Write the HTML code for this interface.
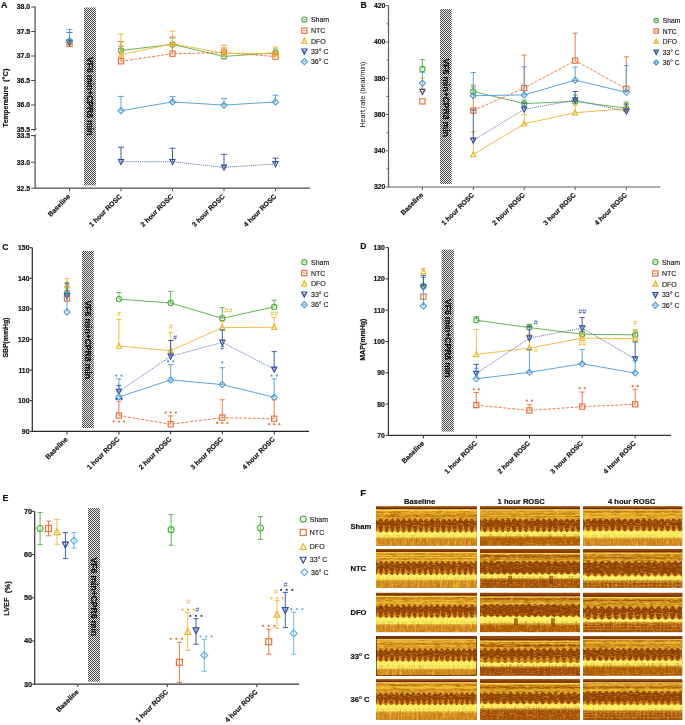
<!DOCTYPE html><html><head><meta charset="utf-8"><style>html,body{margin:0;padding:0;background:#fff;}svg{display:block;filter:blur(0.3px);font-family:"Liberation Sans",sans-serif;}text[font-weight="bold"]{stroke:#111;stroke-width:0.18px;}</style></head><body>
<svg width="685" height="725" viewBox="0 0 685 725">
<defs><pattern id="hat" width="2" height="2" patternUnits="userSpaceOnUse"><rect width="2" height="2" fill="#ececec"/><rect width="1" height="1" fill="#4a4a4a"/><rect x="1" y="1" width="1" height="1" fill="#4a4a4a"/></pattern>
<linearGradient id="ub" x1="0" y1="0" x2="0" y2="1"><stop offset="0" stop-color="#c8862a"/><stop offset="0.5" stop-color="#d49630"/><stop offset="1" stop-color="#d29430"/></linearGradient>
<linearGradient id="bz" x1="0" y1="0" x2="0" y2="1"><stop offset="0" stop-color="#c08030"/><stop offset="1" stop-color="#a35e1c"/></linearGradient>
<linearGradient id="bf" x1="0" y1="0" x2="0" y2="1"><stop offset="0" stop-color="#e8c860" stop-opacity="0.8"/><stop offset="1" stop-color="#e8c860" stop-opacity="0"/></linearGradient>
<filter id="nzd" x="0" y="0" width="1" height="1" filterUnits="objectBoundingBox" color-interpolation-filters="sRGB"><feTurbulence type="fractalNoise" baseFrequency="0.09 0.6" numOctaves="2" seed="4"/><feColorMatrix type="matrix" values="0 0 0 0 0.38  0 0 0 0 0.17  0 0 0 0 0.02  -4.5 0 0 0 2.3"/></filter>
<filter id="nzl" x="0" y="0" width="1" height="1" filterUnits="objectBoundingBox" color-interpolation-filters="sRGB"><feTurbulence type="fractalNoise" baseFrequency="0.2 0.75" numOctaves="2" seed="11"/><feColorMatrix type="matrix" values="0 0 0 0 0.98  0 0 0 0 0.86  0 0 0 0 0.32  0 4.5 0 0 -2.25"/></filter>
<filter id="nzf" x="0" y="0" width="1" height="1" filterUnits="objectBoundingBox" color-interpolation-filters="sRGB"><feTurbulence type="fractalNoise" baseFrequency="0.3 0.9" numOctaves="1" seed="31"/><feColorMatrix type="matrix" values="0 0 0 0 0.97  0 0 0 0 0.85  0 0 0 0 0.35  0 5 0 0 -2.7"/></filter>
<filter id="nzv" x="0" y="0" width="1" height="1" filterUnits="objectBoundingBox" color-interpolation-filters="sRGB"><feTurbulence type="fractalNoise" baseFrequency="0.6 0.1" numOctaves="2" seed="9"/><feColorMatrix type="matrix" values="0 0 0 0 0.45  0 0 0 0 0.22  0 0 0 0 0.03  -4 0 0 0 2.1"/></filter>
<filter id="nzv2" x="0" y="0" width="1" height="1" filterUnits="objectBoundingBox" color-interpolation-filters="sRGB"><feTurbulence type="fractalNoise" baseFrequency="0.6 0.1" numOctaves="2" seed="21"/><feColorMatrix type="matrix" values="0 0 0 0 0.97  0 0 0 0 0.82  0 0 0 0 0.3  0 4 0 0 -2.0"/></filter>
</defs>
<rect width="685" height="725" fill="#fff"/>
<text x="1" y="7.7" font-size="8.8" text-anchor="start" font-weight="bold" fill="#111" >A</text>
<line x1="35.1" y1="6.5" x2="35.1" y2="130" stroke="#4a4a4a" stroke-width="1.2" />
<line x1="35.1" y1="135.5" x2="35.1" y2="188.5" stroke="#4a4a4a" stroke-width="1.2" />
<line x1="33.6" y1="131.5" x2="36.6" y2="128.5" stroke="#4a4a4a" stroke-width="0.9" />
<line x1="33.6" y1="137" x2="36.6" y2="134" stroke="#4a4a4a" stroke-width="0.9" />
<line x1="31.1" y1="7" x2="35.1" y2="7" stroke="#4a4a4a" stroke-width="1.0" />
<text x="30.2" y="9.4" font-size="6.9" text-anchor="end" font-weight="bold" fill="#111" >38.0</text>
<line x1="31.1" y1="31.5" x2="35.1" y2="31.5" stroke="#4a4a4a" stroke-width="1.0" />
<text x="30.2" y="33.9" font-size="6.9" text-anchor="end" font-weight="bold" fill="#111" >37.5</text>
<line x1="31.1" y1="56" x2="35.1" y2="56" stroke="#4a4a4a" stroke-width="1.0" />
<text x="30.2" y="58.4" font-size="6.9" text-anchor="end" font-weight="bold" fill="#111" >37.0</text>
<line x1="31.1" y1="80.5" x2="35.1" y2="80.5" stroke="#4a4a4a" stroke-width="1.0" />
<text x="30.2" y="82.9" font-size="6.9" text-anchor="end" font-weight="bold" fill="#111" >36.5</text>
<line x1="31.1" y1="105" x2="35.1" y2="105" stroke="#4a4a4a" stroke-width="1.0" />
<text x="30.2" y="107.4" font-size="6.9" text-anchor="end" font-weight="bold" fill="#111" >36.0</text>
<line x1="31.1" y1="129.5" x2="35.1" y2="129.5" stroke="#4a4a4a" stroke-width="1.0" />
<text x="30.2" y="131.9" font-size="6.9" text-anchor="end" font-weight="bold" fill="#111" >35.5</text>
<line x1="31.1" y1="135.5" x2="35.1" y2="135.5" stroke="#4a4a4a" stroke-width="1.0" />
<text x="30.2" y="137.9" font-size="6.9" text-anchor="end" font-weight="bold" fill="#111" >33.5</text>
<line x1="31.1" y1="162.2" x2="35.1" y2="162.2" stroke="#4a4a4a" stroke-width="1.0" />
<text x="30.2" y="164.6" font-size="6.9" text-anchor="end" font-weight="bold" fill="#111" >33.0</text>
<line x1="31.1" y1="188.2" x2="35.1" y2="188.2" stroke="#4a4a4a" stroke-width="1.0" />
<text x="30.2" y="190.6" font-size="6.9" text-anchor="end" font-weight="bold" fill="#111" >32.5</text>
<line x1="35.1" y1="188.2" x2="310" y2="188.2" stroke="#4a4a4a" stroke-width="1.2" />
<line x1="69.5" y1="188.2" x2="69.5" y2="191.2" stroke="#4a4a4a" stroke-width="1.0" />
<line x1="121" y1="188.2" x2="121" y2="191.2" stroke="#4a4a4a" stroke-width="1.0" />
<line x1="172.5" y1="188.2" x2="172.5" y2="191.2" stroke="#4a4a4a" stroke-width="1.0" />
<line x1="224" y1="188.2" x2="224" y2="191.2" stroke="#4a4a4a" stroke-width="1.0" />
<line x1="275.5" y1="188.2" x2="275.5" y2="191.2" stroke="#4a4a4a" stroke-width="1.0" />
<text x="-106.7" y="8.2" font-size="7.2" font-weight="bold" fill="#111" text-anchor="middle" transform="rotate(-90)" textLength="41.2" lengthAdjust="spacingAndGlyphs">Temperature</text>
<text x="-75.2" y="8.2" font-size="7.2" font-weight="bold" fill="#111" text-anchor="middle" transform="rotate(-90)" textLength="13.5" lengthAdjust="spacingAndGlyphs">(°C)</text>
<rect x="84" y="7.5" width="12" height="178" fill="url(#hat)"/>
<text x="57" y="-86.9" font-size="8.5" font-weight="bold" fill="#111" transform="rotate(90)" textLength="78.5" lengthAdjust="spacingAndGlyphs">VF6 min+CPR8 min</text>
<text x="70.7" y="196.9" font-size="6.9" font-weight="bold" fill="#111" text-anchor="end" transform="rotate(-45 70.7 196.9)">Baseline</text>
<text x="122.2" y="196.9" font-size="6.9" font-weight="bold" fill="#111" text-anchor="end" transform="rotate(-45 122.2 196.9)">1 hour ROSC</text>
<text x="173.7" y="196.9" font-size="6.9" font-weight="bold" fill="#111" text-anchor="end" transform="rotate(-45 173.7 196.9)">2 hour ROSC</text>
<text x="225.2" y="196.9" font-size="6.9" font-weight="bold" fill="#111" text-anchor="end" transform="rotate(-45 225.2 196.9)">3 hour ROSC</text>
<text x="276.7" y="196.9" font-size="6.9" font-weight="bold" fill="#111" text-anchor="end" transform="rotate(-45 276.7 196.9)">4 hour ROSC</text>
<line x1="121" y1="46" x2="121" y2="50.5" stroke="#52ad45" stroke-width="0.9" />
<line x1="118" y1="46" x2="124" y2="46" stroke="#52ad45" stroke-width="0.9" />
<line x1="172.5" y1="38" x2="172.5" y2="44.4" stroke="#52ad45" stroke-width="0.9" />
<line x1="169.5" y1="38" x2="175.5" y2="38" stroke="#52ad45" stroke-width="0.9" />
<line x1="224" y1="52" x2="224" y2="56.4" stroke="#52ad45" stroke-width="0.9" />
<line x1="221" y1="52" x2="227" y2="52" stroke="#52ad45" stroke-width="0.9" />
<line x1="275.5" y1="49" x2="275.5" y2="52.8" stroke="#52ad45" stroke-width="0.9" />
<line x1="272.5" y1="49" x2="278.5" y2="49" stroke="#52ad45" stroke-width="0.9" />
<polyline points="121,50.5 172.5,44.4 224,56.4 275.5,52.8" fill="none" stroke="#52ad45" stroke-width="0.9" />
<circle cx="69.5" cy="41.5" r="2.6" fill="none" stroke="#52ad45" stroke-width="1.15"/>
<circle cx="121" cy="50.5" r="2.6" fill="none" stroke="#52ad45" stroke-width="1.15"/>
<circle cx="172.5" cy="44.4" r="2.6" fill="none" stroke="#52ad45" stroke-width="1.15"/>
<circle cx="224" cy="56.4" r="2.6" fill="none" stroke="#52ad45" stroke-width="1.15"/>
<circle cx="275.5" cy="52.8" r="2.6" fill="none" stroke="#52ad45" stroke-width="1.15"/>
<line x1="121" y1="41.5" x2="121" y2="61.3" stroke="#ea6f36" stroke-width="0.9" />
<line x1="118" y1="41.5" x2="124" y2="41.5" stroke="#ea6f36" stroke-width="0.9" />
<line x1="172.5" y1="37" x2="172.5" y2="53.7" stroke="#ea6f36" stroke-width="0.9" />
<line x1="169.5" y1="37" x2="175.5" y2="37" stroke="#ea6f36" stroke-width="0.9" />
<line x1="224" y1="48" x2="224" y2="52.6" stroke="#ea6f36" stroke-width="0.9" />
<line x1="221" y1="48" x2="227" y2="48" stroke="#ea6f36" stroke-width="0.9" />
<line x1="275.5" y1="52" x2="275.5" y2="56.6" stroke="#ea6f36" stroke-width="0.9" />
<line x1="272.5" y1="52" x2="278.5" y2="52" stroke="#ea6f36" stroke-width="0.9" />
<polyline points="121,61.3 172.5,53.7 224,52.6 275.5,56.6" fill="none" stroke="#ea6f36" stroke-width="0.9" stroke-dasharray="3,1.5"/>
<rect x="66.9" y="41.2" width="5.2" height="5.2" fill="none" stroke="#ea6f36" stroke-width="1.15"/>
<rect x="118.4" y="58.7" width="5.2" height="5.2" fill="none" stroke="#ea6f36" stroke-width="1.15"/>
<rect x="169.9" y="51.1" width="5.2" height="5.2" fill="none" stroke="#ea6f36" stroke-width="1.15"/>
<rect x="221.4" y="50" width="5.2" height="5.2" fill="none" stroke="#ea6f36" stroke-width="1.15"/>
<rect x="272.9" y="54" width="5.2" height="5.2" fill="none" stroke="#ea6f36" stroke-width="1.15"/>
<line x1="121" y1="33.9" x2="121" y2="54.6" stroke="#ecb531" stroke-width="0.9" />
<line x1="118" y1="33.9" x2="124" y2="33.9" stroke="#ecb531" stroke-width="0.9" />
<line x1="172.5" y1="31.2" x2="172.5" y2="43.8" stroke="#ecb531" stroke-width="0.9" />
<line x1="169.5" y1="31.2" x2="175.5" y2="31.2" stroke="#ecb531" stroke-width="0.9" />
<line x1="224" y1="45.3" x2="224" y2="53.4" stroke="#ecb531" stroke-width="0.9" />
<line x1="221" y1="45.3" x2="227" y2="45.3" stroke="#ecb531" stroke-width="0.9" />
<line x1="275.5" y1="47" x2="275.5" y2="53.4" stroke="#ecb531" stroke-width="0.9" />
<line x1="272.5" y1="47" x2="278.5" y2="47" stroke="#ecb531" stroke-width="0.9" />
<polyline points="121,54.6 172.5,43.8 224,53.4 275.5,53.4" fill="none" stroke="#ecb531" stroke-width="0.9" />
<path d="M69.5 38.14L72.05 43.21L66.95 43.21Z" fill="none" stroke="#ecb531" stroke-width="1.15" stroke-linejoin="miter"/>
<path d="M121 51.74L123.55 56.81L118.45 56.81Z" fill="none" stroke="#ecb531" stroke-width="1.15" stroke-linejoin="miter"/>
<path d="M172.5 40.94L175.05 46.01L169.95 46.01Z" fill="none" stroke="#ecb531" stroke-width="1.15" stroke-linejoin="miter"/>
<path d="M224 50.54L226.55 55.61L221.45 55.61Z" fill="none" stroke="#ecb531" stroke-width="1.15" stroke-linejoin="miter"/>
<path d="M275.5 50.54L278.05 55.61L272.95 55.61Z" fill="none" stroke="#ecb531" stroke-width="1.15" stroke-linejoin="miter"/>
<line x1="69.5" y1="32.4" x2="69.5" y2="42.5" stroke="#2d4d9a" stroke-width="0.9" />
<line x1="66.5" y1="32.4" x2="72.5" y2="32.4" stroke="#2d4d9a" stroke-width="0.9" />
<line x1="121" y1="147.2" x2="121" y2="161.7" stroke="#2d4d9a" stroke-width="0.9" />
<line x1="118" y1="147.2" x2="124" y2="147.2" stroke="#2d4d9a" stroke-width="0.9" />
<line x1="172.5" y1="148.2" x2="172.5" y2="161.7" stroke="#2d4d9a" stroke-width="0.9" />
<line x1="169.5" y1="148.2" x2="175.5" y2="148.2" stroke="#2d4d9a" stroke-width="0.9" />
<line x1="224" y1="154.3" x2="224" y2="167.4" stroke="#2d4d9a" stroke-width="0.9" />
<line x1="221" y1="154.3" x2="227" y2="154.3" stroke="#2d4d9a" stroke-width="0.9" />
<line x1="275.5" y1="158.2" x2="275.5" y2="163.9" stroke="#2d4d9a" stroke-width="0.9" />
<line x1="272.5" y1="158.2" x2="278.5" y2="158.2" stroke="#2d4d9a" stroke-width="0.9" />
<polyline points="121,161.7 172.5,161.7 224,167.4 275.5,163.9" fill="none" stroke="#4a68b0" stroke-width="0.85" stroke-dasharray="1.2,0.9"/>
<path d="M69.5 45.36L72.05 40.29L66.95 40.29Z" fill="none" stroke="#2d4d9a" stroke-width="1.15" stroke-linejoin="miter"/>
<path d="M121 164.56L123.55 159.49L118.45 159.49Z" fill="none" stroke="#2d4d9a" stroke-width="1.15" stroke-linejoin="miter"/>
<path d="M172.5 164.56L175.05 159.49L169.95 159.49Z" fill="none" stroke="#2d4d9a" stroke-width="1.15" stroke-linejoin="miter"/>
<path d="M224 170.26L226.55 165.19L221.45 165.19Z" fill="none" stroke="#2d4d9a" stroke-width="1.15" stroke-linejoin="miter"/>
<path d="M275.5 166.76L278.05 161.69L272.95 161.69Z" fill="none" stroke="#2d4d9a" stroke-width="1.15" stroke-linejoin="miter"/>
<line x1="69.5" y1="29.4" x2="69.5" y2="40.5" stroke="#4b9bd3" stroke-width="0.9" />
<line x1="66.5" y1="29.4" x2="72.5" y2="29.4" stroke="#4b9bd3" stroke-width="0.9" />
<line x1="121" y1="96.4" x2="121" y2="110.7" stroke="#4b9bd3" stroke-width="0.9" />
<line x1="118" y1="96.4" x2="124" y2="96.4" stroke="#4b9bd3" stroke-width="0.9" />
<line x1="172.5" y1="96.6" x2="172.5" y2="101.9" stroke="#4b9bd3" stroke-width="0.9" />
<line x1="169.5" y1="96.6" x2="175.5" y2="96.6" stroke="#4b9bd3" stroke-width="0.9" />
<line x1="224" y1="98.4" x2="224" y2="105.1" stroke="#4b9bd3" stroke-width="0.9" />
<line x1="221" y1="98.4" x2="227" y2="98.4" stroke="#4b9bd3" stroke-width="0.9" />
<line x1="275.5" y1="95.2" x2="275.5" y2="101.9" stroke="#4b9bd3" stroke-width="0.9" />
<line x1="272.5" y1="95.2" x2="278.5" y2="95.2" stroke="#4b9bd3" stroke-width="0.9" />
<polyline points="121,110.7 172.5,101.9 224,105.1 275.5,101.9" fill="none" stroke="#4b9bd3" stroke-width="0.9" />
<path d="M69.5 37.51L72.49 40.5L69.5 43.49L66.51 40.5Z" fill="none" stroke="#4b9bd3" stroke-width="1.15"/>
<path d="M121 107.71L123.99 110.7L121 113.69L118.01 110.7Z" fill="none" stroke="#4b9bd3" stroke-width="1.15"/>
<path d="M172.5 98.91L175.49 101.9L172.5 104.89L169.51 101.9Z" fill="none" stroke="#4b9bd3" stroke-width="1.15"/>
<path d="M224 102.11L226.99 105.1L224 108.09L221.01 105.1Z" fill="none" stroke="#4b9bd3" stroke-width="1.15"/>
<path d="M275.5 98.91L278.49 101.9L275.5 104.89L272.51 101.9Z" fill="none" stroke="#4b9bd3" stroke-width="1.15"/>
<circle cx="304.4" cy="19.6" r="2.6" fill="none" stroke="#52ad45" stroke-width="1.2"/>
<line x1="303.1" y1="19.6" x2="305.7" y2="19.6" stroke="#52ad45" stroke-width="0.9" />
<text x="310.9" y="22.1" font-size="7" text-anchor="start" font-weight="normal" fill="#111" stroke="#111" stroke-width="0.12">Sham</text>
<rect x="301.8" y="28.1" width="5.2" height="5.2" fill="none" stroke="#ea6f36" stroke-width="1.2"/>
<line x1="303.1" y1="30.7" x2="305.7" y2="30.7" stroke="#ea6f36" stroke-width="0.9" />
<text x="310.9" y="33.2" font-size="7" text-anchor="start" font-weight="normal" fill="#111" stroke="#111" stroke-width="0.12">NTC</text>
<path d="M304.4 38.24L306.95 43.31L301.85 43.31Z" fill="none" stroke="#ecb531" stroke-width="1.2" stroke-linejoin="miter"/>
<line x1="303.1" y1="41.1" x2="305.7" y2="41.1" stroke="#ecb531" stroke-width="0.9" />
<text x="310.9" y="43.6" font-size="7" text-anchor="start" font-weight="normal" fill="#111" stroke="#111" stroke-width="0.12">DFO</text>
<path d="M304.4 54.06L306.95 48.99L301.85 48.99Z" fill="none" stroke="#2d4d9a" stroke-width="1.2" stroke-linejoin="miter"/>
<line x1="303.1" y1="51.2" x2="305.7" y2="51.2" stroke="#2d4d9a" stroke-width="0.9" />
<text x="310.9" y="53.7" font-size="7" text-anchor="start" font-weight="normal" fill="#111" stroke="#111" stroke-width="0.12">33° C</text>
<path d="M304.4 58.61L307.39 61.6L304.4 64.59L301.41 61.6Z" fill="none" stroke="#4b9bd3" stroke-width="1.2"/>
<line x1="303.1" y1="61.6" x2="305.7" y2="61.6" stroke="#4b9bd3" stroke-width="0.9" />
<text x="310.9" y="64.1" font-size="7" text-anchor="start" font-weight="normal" fill="#111" stroke="#111" stroke-width="0.12">36° C</text>
<text x="360.6" y="7.6" font-size="8.6" text-anchor="start" font-weight="bold" fill="#111" >B</text>
<line x1="388.5" y1="5.6" x2="388.5" y2="187.5" stroke="#5e5e5e" stroke-width="1.2" />
<line x1="385.7" y1="5.6" x2="388.5" y2="5.6" stroke="#5e5e5e" stroke-width="1.0" />
<text x="385.3" y="8" font-size="6.8" text-anchor="end" font-weight="bold" fill="#111" >420</text>
<line x1="385.7" y1="42" x2="388.5" y2="42" stroke="#5e5e5e" stroke-width="1.0" />
<text x="385.3" y="44.4" font-size="6.8" text-anchor="end" font-weight="bold" fill="#111" >400</text>
<line x1="385.7" y1="78.4" x2="388.5" y2="78.4" stroke="#5e5e5e" stroke-width="1.0" />
<text x="385.3" y="80.8" font-size="6.8" text-anchor="end" font-weight="bold" fill="#111" >380</text>
<line x1="385.7" y1="114.6" x2="388.5" y2="114.6" stroke="#5e5e5e" stroke-width="1.0" />
<text x="385.3" y="117" font-size="6.8" text-anchor="end" font-weight="bold" fill="#111" >360</text>
<line x1="385.7" y1="150.8" x2="388.5" y2="150.8" stroke="#5e5e5e" stroke-width="1.0" />
<text x="385.3" y="153.2" font-size="6.8" text-anchor="end" font-weight="bold" fill="#111" >340</text>
<line x1="385.7" y1="187" x2="388.5" y2="187" stroke="#5e5e5e" stroke-width="1.0" />
<text x="385.3" y="189.4" font-size="6.8" text-anchor="end" font-weight="bold" fill="#111" >320</text>
<line x1="386.5" y1="23.8" x2="388.5" y2="23.8" stroke="#5e5e5e" stroke-width="0.9" />
<line x1="386.5" y1="60.2" x2="388.5" y2="60.2" stroke="#5e5e5e" stroke-width="0.9" />
<line x1="386.5" y1="96.5" x2="388.5" y2="96.5" stroke="#5e5e5e" stroke-width="0.9" />
<line x1="386.5" y1="132.7" x2="388.5" y2="132.7" stroke="#5e5e5e" stroke-width="0.9" />
<line x1="386.5" y1="168.9" x2="388.5" y2="168.9" stroke="#5e5e5e" stroke-width="0.9" />
<line x1="388.5" y1="187" x2="660.5" y2="187" stroke="#5e5e5e" stroke-width="1.2" />
<line x1="422.4" y1="187" x2="422.4" y2="190" stroke="#5e5e5e" stroke-width="1.0" />
<line x1="473.3" y1="187" x2="473.3" y2="190" stroke="#5e5e5e" stroke-width="1.0" />
<line x1="524.2" y1="187" x2="524.2" y2="190" stroke="#5e5e5e" stroke-width="1.0" />
<line x1="575.2" y1="187" x2="575.2" y2="190" stroke="#5e5e5e" stroke-width="1.0" />
<line x1="626.3" y1="187" x2="626.3" y2="190" stroke="#5e5e5e" stroke-width="1.0" />
<text x="-94.6" y="365.2" font-size="7" font-weight="normal" fill="#111" text-anchor="middle" transform="rotate(-90)" textLength="66" lengthAdjust="spacingAndGlyphs">Heart rate (beat/min)</text>
<rect x="440" y="9" width="11.6" height="175" fill="url(#hat)"/>
<text x="58.5" y="-442.7" font-size="8.5" font-weight="bold" fill="#111" transform="rotate(90)" textLength="78.5" lengthAdjust="spacingAndGlyphs">VF6 min+CPR8 min</text>
<text x="423.6" y="195.4" font-size="6.9" font-weight="bold" fill="#111" text-anchor="end" transform="rotate(-45 423.6 195.4)">Baseline</text>
<text x="474.5" y="195.4" font-size="6.9" font-weight="bold" fill="#111" text-anchor="end" transform="rotate(-45 474.5 195.4)">1 hour ROSC</text>
<text x="525.4" y="195.4" font-size="6.9" font-weight="bold" fill="#111" text-anchor="end" transform="rotate(-45 525.4 195.4)">2 hour ROSC</text>
<text x="576.4" y="195.4" font-size="6.9" font-weight="bold" fill="#111" text-anchor="end" transform="rotate(-45 576.4 195.4)">3 hour ROSC</text>
<text x="627.5" y="195.4" font-size="6.9" font-weight="bold" fill="#111" text-anchor="end" transform="rotate(-45 627.5 195.4)">4 hour ROSC</text>
<line x1="422.4" y1="59.6" x2="422.4" y2="69" stroke="#52ad45" stroke-width="0.9" />
<line x1="419.8" y1="59.6" x2="425" y2="59.6" stroke="#52ad45" stroke-width="0.9" />
<line x1="473.3" y1="87" x2="473.3" y2="91.5" stroke="#52ad45" stroke-width="0.9" />
<line x1="470.7" y1="87" x2="475.9" y2="87" stroke="#52ad45" stroke-width="0.9" />
<line x1="524.2" y1="100" x2="524.2" y2="103.6" stroke="#52ad45" stroke-width="0.9" />
<line x1="521.6" y1="100" x2="526.8" y2="100" stroke="#52ad45" stroke-width="0.9" />
<line x1="575.2" y1="95" x2="575.2" y2="101.4" stroke="#52ad45" stroke-width="0.9" />
<line x1="572.6" y1="95" x2="577.8" y2="95" stroke="#52ad45" stroke-width="0.9" />
<line x1="626.3" y1="102" x2="626.3" y2="108.3" stroke="#52ad45" stroke-width="0.9" />
<line x1="623.7" y1="102" x2="628.9" y2="102" stroke="#52ad45" stroke-width="0.9" />
<polyline points="473.3,91.5 524.2,103.6 575.2,101.4 626.3,108.3" fill="none" stroke="#52ad45" stroke-width="0.9" />
<circle cx="422.4" cy="69" r="2.6" fill="none" stroke="#52ad45" stroke-width="1.15"/>
<circle cx="473.3" cy="91.5" r="2.6" fill="none" stroke="#52ad45" stroke-width="1.15"/>
<circle cx="524.2" cy="103.6" r="2.6" fill="none" stroke="#52ad45" stroke-width="1.15"/>
<circle cx="575.2" cy="101.4" r="2.6" fill="none" stroke="#52ad45" stroke-width="1.15"/>
<circle cx="626.3" cy="108.3" r="2.6" fill="none" stroke="#52ad45" stroke-width="1.15"/>
<line x1="473.3" y1="85.2" x2="473.3" y2="110.6" stroke="#ea6f36" stroke-width="0.9" />
<line x1="470.7" y1="85.2" x2="475.9" y2="85.2" stroke="#ea6f36" stroke-width="0.9" />
<line x1="524.2" y1="55.2" x2="524.2" y2="88" stroke="#ea6f36" stroke-width="0.9" />
<line x1="521.6" y1="55.2" x2="526.8" y2="55.2" stroke="#ea6f36" stroke-width="0.9" />
<line x1="575.2" y1="33.1" x2="575.2" y2="60.7" stroke="#ea6f36" stroke-width="0.9" />
<line x1="572.6" y1="33.1" x2="577.8" y2="33.1" stroke="#ea6f36" stroke-width="0.9" />
<line x1="626.3" y1="56.8" x2="626.3" y2="88.8" stroke="#ea6f36" stroke-width="0.9" />
<line x1="623.7" y1="56.8" x2="628.9" y2="56.8" stroke="#ea6f36" stroke-width="0.9" />
<polyline points="473.3,110.6 524.2,88 575.2,60.7 626.3,88.8" fill="none" stroke="#ea6f36" stroke-width="0.9" stroke-dasharray="3,1.5"/>
<rect x="419.8" y="98.8" width="5.2" height="5.2" fill="none" stroke="#ea6f36" stroke-width="1.15"/>
<rect x="470.7" y="108" width="5.2" height="5.2" fill="none" stroke="#ea6f36" stroke-width="1.15"/>
<rect x="521.6" y="85.4" width="5.2" height="5.2" fill="none" stroke="#ea6f36" stroke-width="1.15"/>
<rect x="572.6" y="58.1" width="5.2" height="5.2" fill="none" stroke="#ea6f36" stroke-width="1.15"/>
<rect x="623.7" y="86.2" width="5.2" height="5.2" fill="none" stroke="#ea6f36" stroke-width="1.15"/>
<line x1="422.4" y1="78" x2="422.4" y2="89.5" stroke="#ecb531" stroke-width="0.9" />
<line x1="419.8" y1="78" x2="425" y2="78" stroke="#ecb531" stroke-width="0.9" />
<line x1="473.3" y1="131.7" x2="473.3" y2="154.5" stroke="#ecb531" stroke-width="0.9" />
<line x1="470.7" y1="131.7" x2="475.9" y2="131.7" stroke="#ecb531" stroke-width="0.9" />
<line x1="524.2" y1="114.6" x2="524.2" y2="123.8" stroke="#ecb531" stroke-width="0.9" />
<line x1="521.6" y1="114.6" x2="526.8" y2="114.6" stroke="#ecb531" stroke-width="0.9" />
<line x1="575.2" y1="105.4" x2="575.2" y2="112.7" stroke="#ecb531" stroke-width="0.9" />
<line x1="572.6" y1="105.4" x2="577.8" y2="105.4" stroke="#ecb531" stroke-width="0.9" />
<line x1="626.3" y1="104" x2="626.3" y2="108.8" stroke="#ecb531" stroke-width="0.9" />
<line x1="623.7" y1="104" x2="628.9" y2="104" stroke="#ecb531" stroke-width="0.9" />
<polyline points="473.3,154.5 524.2,123.8 575.2,112.7 626.3,108.8" fill="none" stroke="#ecb531" stroke-width="0.9" />
<path d="M422.4 86.64L424.95 91.71L419.85 91.71Z" fill="none" stroke="#ecb531" stroke-width="1.15" stroke-linejoin="miter"/>
<path d="M473.3 151.64L475.85 156.71L470.75 156.71Z" fill="none" stroke="#ecb531" stroke-width="1.15" stroke-linejoin="miter"/>
<path d="M524.2 120.94L526.75 126.01L521.65 126.01Z" fill="none" stroke="#ecb531" stroke-width="1.15" stroke-linejoin="miter"/>
<path d="M575.2 109.84L577.75 114.91L572.65 114.91Z" fill="none" stroke="#ecb531" stroke-width="1.15" stroke-linejoin="miter"/>
<path d="M626.3 105.94L628.85 111.01L623.75 111.01Z" fill="none" stroke="#ecb531" stroke-width="1.15" stroke-linejoin="miter"/>
<line x1="473.3" y1="110" x2="473.3" y2="140.3" stroke="#2d4d9a" stroke-width="0.9" />
<line x1="470.7" y1="110" x2="475.9" y2="110" stroke="#2d4d9a" stroke-width="0.9" />
<line x1="524.2" y1="103" x2="524.2" y2="109.3" stroke="#2d4d9a" stroke-width="0.9" />
<line x1="521.6" y1="103" x2="526.8" y2="103" stroke="#2d4d9a" stroke-width="0.9" />
<line x1="575.2" y1="91.5" x2="575.2" y2="100.1" stroke="#2d4d9a" stroke-width="0.9" />
<line x1="572.6" y1="91.5" x2="577.8" y2="91.5" stroke="#2d4d9a" stroke-width="0.9" />
<line x1="626.3" y1="104" x2="626.3" y2="111.4" stroke="#2d4d9a" stroke-width="0.9" />
<line x1="623.7" y1="104" x2="628.9" y2="104" stroke="#2d4d9a" stroke-width="0.9" />
<polyline points="473.3,140.3 524.2,109.3 575.2,100.1 626.3,111.4" fill="none" stroke="#4a68b0" stroke-width="0.85" stroke-dasharray="1.2,0.9"/>
<path d="M422.4 94.46L424.95 89.39L419.85 89.39Z" fill="none" stroke="#2d4d9a" stroke-width="1.15" stroke-linejoin="miter"/>
<path d="M473.3 143.16L475.85 138.09L470.75 138.09Z" fill="none" stroke="#2d4d9a" stroke-width="1.15" stroke-linejoin="miter"/>
<path d="M524.2 112.16L526.75 107.09L521.65 107.09Z" fill="none" stroke="#2d4d9a" stroke-width="1.15" stroke-linejoin="miter"/>
<path d="M575.2 102.96L577.75 97.89L572.65 97.89Z" fill="none" stroke="#2d4d9a" stroke-width="1.15" stroke-linejoin="miter"/>
<path d="M626.3 114.26L628.85 109.19L623.75 109.19Z" fill="none" stroke="#2d4d9a" stroke-width="1.15" stroke-linejoin="miter"/>
<line x1="422.4" y1="72.4" x2="422.4" y2="83.2" stroke="#4b9bd3" stroke-width="0.9" />
<line x1="419.8" y1="72.4" x2="425" y2="72.4" stroke="#4b9bd3" stroke-width="0.9" />
<line x1="473.3" y1="72.5" x2="473.3" y2="95.7" stroke="#4b9bd3" stroke-width="0.9" />
<line x1="470.7" y1="72.5" x2="475.9" y2="72.5" stroke="#4b9bd3" stroke-width="0.9" />
<line x1="524.2" y1="66.8" x2="524.2" y2="94.9" stroke="#4b9bd3" stroke-width="0.9" />
<line x1="521.6" y1="66.8" x2="526.8" y2="66.8" stroke="#4b9bd3" stroke-width="0.9" />
<line x1="575.2" y1="67" x2="575.2" y2="80.2" stroke="#4b9bd3" stroke-width="0.9" />
<line x1="572.6" y1="67" x2="577.8" y2="67" stroke="#4b9bd3" stroke-width="0.9" />
<line x1="626.3" y1="65.5" x2="626.3" y2="92.3" stroke="#4b9bd3" stroke-width="0.9" />
<line x1="623.7" y1="65.5" x2="628.9" y2="65.5" stroke="#4b9bd3" stroke-width="0.9" />
<polyline points="473.3,95.7 524.2,94.9 575.2,80.2 626.3,92.3" fill="none" stroke="#4b9bd3" stroke-width="0.9" />
<path d="M422.4 80.21L425.39 83.2L422.4 86.19L419.41 83.2Z" fill="none" stroke="#4b9bd3" stroke-width="1.15"/>
<path d="M473.3 92.71L476.29 95.7L473.3 98.69L470.31 95.7Z" fill="none" stroke="#4b9bd3" stroke-width="1.15"/>
<path d="M524.2 91.91L527.19 94.9L524.2 97.89L521.21 94.9Z" fill="none" stroke="#4b9bd3" stroke-width="1.15"/>
<path d="M575.2 77.21L578.19 80.2L575.2 83.19L572.21 80.2Z" fill="none" stroke="#4b9bd3" stroke-width="1.15"/>
<path d="M626.3 89.31L629.29 92.3L626.3 95.29L623.31 92.3Z" fill="none" stroke="#4b9bd3" stroke-width="1.15"/>
<circle cx="656.2" cy="20.5" r="2.2" fill="none" stroke="#52ad45" stroke-width="1.2"/>
<line x1="654.9" y1="20.5" x2="657.5" y2="20.5" stroke="#52ad45" stroke-width="0.9" />
<text x="662.8" y="23" font-size="6.7" text-anchor="start" font-weight="normal" fill="#111" stroke="#111" stroke-width="0.12">Sham</text>
<rect x="654" y="28.8" width="4.4" height="4.4" fill="none" stroke="#ea6f36" stroke-width="1.2"/>
<line x1="654.9" y1="31" x2="657.5" y2="31" stroke="#ea6f36" stroke-width="0.9" />
<text x="662.8" y="33.5" font-size="6.7" text-anchor="start" font-weight="normal" fill="#111" stroke="#111" stroke-width="0.12">NTC</text>
<path d="M656.2 39.08L658.36 43.37L654.04 43.37Z" fill="none" stroke="#ecb531" stroke-width="1.2" stroke-linejoin="miter"/>
<line x1="654.9" y1="41.5" x2="657.5" y2="41.5" stroke="#ecb531" stroke-width="0.9" />
<text x="662.8" y="44" font-size="6.7" text-anchor="start" font-weight="normal" fill="#111" stroke="#111" stroke-width="0.12">DFO</text>
<path d="M656.2 54.42L658.36 50.13L654.04 50.13Z" fill="none" stroke="#2d4d9a" stroke-width="1.2" stroke-linejoin="miter"/>
<line x1="654.9" y1="52" x2="657.5" y2="52" stroke="#2d4d9a" stroke-width="0.9" />
<text x="662.8" y="54.5" font-size="6.7" text-anchor="start" font-weight="normal" fill="#111" stroke="#111" stroke-width="0.12">33° C</text>
<path d="M656.2 59.97L658.73 62.5L656.2 65.03L653.67 62.5Z" fill="none" stroke="#4b9bd3" stroke-width="1.2"/>
<line x1="654.9" y1="62.5" x2="657.5" y2="62.5" stroke="#4b9bd3" stroke-width="0.9" />
<text x="662.8" y="65" font-size="6.7" text-anchor="start" font-weight="normal" fill="#111" stroke="#111" stroke-width="0.12">36° C</text>
<text x="2.2" y="250.2" font-size="8.6" text-anchor="start" font-weight="bold" fill="#111" >C</text>
<line x1="32.3" y1="247.7" x2="32.3" y2="431.8" stroke="#262626" stroke-width="1.2" />
<line x1="29.8" y1="247.7" x2="32.3" y2="247.7" stroke="#262626" stroke-width="1.0" />
<text x="29.5" y="250.1" font-size="6.9" text-anchor="end" font-weight="bold" fill="#111" >150</text>
<line x1="29.8" y1="278.3" x2="32.3" y2="278.3" stroke="#262626" stroke-width="1.0" />
<text x="29.5" y="280.7" font-size="6.9" text-anchor="end" font-weight="bold" fill="#111" >140</text>
<line x1="29.8" y1="308.9" x2="32.3" y2="308.9" stroke="#262626" stroke-width="1.0" />
<text x="29.5" y="311.3" font-size="6.9" text-anchor="end" font-weight="bold" fill="#111" >130</text>
<line x1="29.8" y1="339.5" x2="32.3" y2="339.5" stroke="#262626" stroke-width="1.0" />
<text x="29.5" y="341.9" font-size="6.9" text-anchor="end" font-weight="bold" fill="#111" >120</text>
<line x1="29.8" y1="370.1" x2="32.3" y2="370.1" stroke="#262626" stroke-width="1.0" />
<text x="29.5" y="372.5" font-size="6.9" text-anchor="end" font-weight="bold" fill="#111" >110</text>
<line x1="29.8" y1="400.7" x2="32.3" y2="400.7" stroke="#262626" stroke-width="1.0" />
<text x="29.5" y="403.1" font-size="6.9" text-anchor="end" font-weight="bold" fill="#111" >100</text>
<line x1="29.8" y1="431.3" x2="32.3" y2="431.3" stroke="#262626" stroke-width="1.0" />
<text x="29.5" y="433.7" font-size="6.9" text-anchor="end" font-weight="bold" fill="#111" >90</text>
<line x1="32.3" y1="431.3" x2="309" y2="431.3" stroke="#262626" stroke-width="1.2" />
<line x1="67" y1="431.3" x2="67" y2="434.3" stroke="#262626" stroke-width="1.0" />
<line x1="118.9" y1="431.3" x2="118.9" y2="434.3" stroke="#262626" stroke-width="1.0" />
<line x1="170.7" y1="431.3" x2="170.7" y2="434.3" stroke="#262626" stroke-width="1.0" />
<line x1="222.3" y1="431.3" x2="222.3" y2="434.3" stroke="#262626" stroke-width="1.0" />
<line x1="274.2" y1="431.3" x2="274.2" y2="434.3" stroke="#262626" stroke-width="1.0" />
<text x="-337.6" y="8.3" font-size="7" font-weight="bold" fill="#111" text-anchor="middle" transform="rotate(-90)" textLength="40" lengthAdjust="spacingAndGlyphs">SBP(mmHg)</text>
<rect x="82" y="251" width="11.8" height="177" fill="url(#hat)"/>
<text x="300.5" y="-84.8" font-size="8.5" font-weight="bold" fill="#111" transform="rotate(90)" textLength="78.5" lengthAdjust="spacingAndGlyphs">VF6 min+CPR8 min</text>
<text x="68.2" y="439.7" font-size="6.9" font-weight="bold" fill="#111" text-anchor="end" transform="rotate(-45 68.2 439.7)">Baseline</text>
<text x="120.1" y="439.7" font-size="6.9" font-weight="bold" fill="#111" text-anchor="end" transform="rotate(-45 120.1 439.7)">1 hour ROSC</text>
<text x="171.9" y="439.7" font-size="6.9" font-weight="bold" fill="#111" text-anchor="end" transform="rotate(-45 171.9 439.7)">2 hour ROSC</text>
<text x="223.5" y="439.7" font-size="6.9" font-weight="bold" fill="#111" text-anchor="end" transform="rotate(-45 223.5 439.7)">3 hour ROSC</text>
<text x="275.4" y="439.7" font-size="6.9" font-weight="bold" fill="#111" text-anchor="end" transform="rotate(-45 275.4 439.7)">4 hour ROSC</text>
<line x1="67" y1="288" x2="67" y2="293.8" stroke="#52ad45" stroke-width="0.9" />
<line x1="64.4" y1="288" x2="69.6" y2="288" stroke="#52ad45" stroke-width="0.9" />
<line x1="118.9" y1="292.5" x2="118.9" y2="299.1" stroke="#52ad45" stroke-width="0.9" />
<line x1="116.3" y1="292.5" x2="121.5" y2="292.5" stroke="#52ad45" stroke-width="0.9" />
<line x1="170.7" y1="291.4" x2="170.7" y2="303" stroke="#52ad45" stroke-width="0.9" />
<line x1="168.1" y1="291.4" x2="173.3" y2="291.4" stroke="#52ad45" stroke-width="0.9" />
<line x1="222.3" y1="307.7" x2="222.3" y2="318.3" stroke="#52ad45" stroke-width="0.9" />
<line x1="219.7" y1="307.7" x2="224.9" y2="307.7" stroke="#52ad45" stroke-width="0.9" />
<line x1="274.2" y1="300.2" x2="274.2" y2="306.9" stroke="#52ad45" stroke-width="0.9" />
<line x1="271.6" y1="300.2" x2="276.8" y2="300.2" stroke="#52ad45" stroke-width="0.9" />
<polyline points="118.9,299.1 170.7,303 222.3,318.3 274.2,306.9" fill="none" stroke="#52ad45" stroke-width="0.9" />
<circle cx="67" cy="293.8" r="2.6" fill="none" stroke="#52ad45" stroke-width="1.15"/>
<circle cx="118.9" cy="299.1" r="2.6" fill="none" stroke="#52ad45" stroke-width="1.15"/>
<circle cx="170.7" cy="303" r="2.6" fill="none" stroke="#52ad45" stroke-width="1.15"/>
<circle cx="222.3" cy="318.3" r="2.6" fill="none" stroke="#52ad45" stroke-width="1.15"/>
<circle cx="274.2" cy="306.9" r="2.6" fill="none" stroke="#52ad45" stroke-width="1.15"/>
<line x1="67" y1="290.4" x2="67" y2="298.6" stroke="#ea6f36" stroke-width="0.9" />
<line x1="64.4" y1="290.4" x2="69.6" y2="290.4" stroke="#ea6f36" stroke-width="0.9" />
<line x1="118.9" y1="401.2" x2="118.9" y2="415.6" stroke="#ea6f36" stroke-width="0.9" />
<line x1="116.3" y1="401.2" x2="121.5" y2="401.2" stroke="#ea6f36" stroke-width="0.9" />
<line x1="170.7" y1="415.9" x2="170.7" y2="424.2" stroke="#ea6f36" stroke-width="0.9" />
<line x1="168.1" y1="415.9" x2="173.3" y2="415.9" stroke="#ea6f36" stroke-width="0.9" />
<line x1="222.3" y1="399.8" x2="222.3" y2="417.6" stroke="#ea6f36" stroke-width="0.9" />
<line x1="219.7" y1="399.8" x2="224.9" y2="399.8" stroke="#ea6f36" stroke-width="0.9" />
<line x1="274.2" y1="399.8" x2="274.2" y2="418.7" stroke="#ea6f36" stroke-width="0.9" />
<line x1="271.6" y1="399.8" x2="276.8" y2="399.8" stroke="#ea6f36" stroke-width="0.9" />
<polyline points="118.9,415.6 170.7,424.2 222.3,417.6 274.2,418.7" fill="none" stroke="#ea6f36" stroke-width="0.9" stroke-dasharray="3,1.5"/>
<rect x="64.4" y="296" width="5.2" height="5.2" fill="none" stroke="#ea6f36" stroke-width="1.15"/>
<rect x="116.3" y="413" width="5.2" height="5.2" fill="none" stroke="#ea6f36" stroke-width="1.15"/>
<rect x="168.1" y="421.6" width="5.2" height="5.2" fill="none" stroke="#ea6f36" stroke-width="1.15"/>
<rect x="219.7" y="415" width="5.2" height="5.2" fill="none" stroke="#ea6f36" stroke-width="1.15"/>
<rect x="271.6" y="416.1" width="5.2" height="5.2" fill="none" stroke="#ea6f36" stroke-width="1.15"/>
<line x1="67" y1="278.7" x2="67" y2="284.7" stroke="#ecb531" stroke-width="0.9" />
<line x1="64.4" y1="278.7" x2="69.6" y2="278.7" stroke="#ecb531" stroke-width="0.9" />
<line x1="118.9" y1="319.4" x2="118.9" y2="346" stroke="#ecb531" stroke-width="0.9" />
<line x1="116.3" y1="319.4" x2="121.5" y2="319.4" stroke="#ecb531" stroke-width="0.9" />
<line x1="170.7" y1="332.7" x2="170.7" y2="350.7" stroke="#ecb531" stroke-width="0.9" />
<line x1="168.1" y1="332.7" x2="173.3" y2="332.7" stroke="#ecb531" stroke-width="0.9" />
<line x1="222.3" y1="321.6" x2="222.3" y2="327.7" stroke="#ecb531" stroke-width="0.9" />
<line x1="219.7" y1="321.6" x2="224.9" y2="321.6" stroke="#ecb531" stroke-width="0.9" />
<line x1="274.2" y1="317.4" x2="274.2" y2="327.2" stroke="#ecb531" stroke-width="0.9" />
<line x1="271.6" y1="317.4" x2="276.8" y2="317.4" stroke="#ecb531" stroke-width="0.9" />
<polyline points="118.9,346 170.7,350.7 222.3,327.7 274.2,327.2" fill="none" stroke="#ecb531" stroke-width="0.9" />
<path d="M67 281.84L69.55 286.91L64.45 286.91Z" fill="none" stroke="#ecb531" stroke-width="1.15" stroke-linejoin="miter"/>
<path d="M118.9 343.14L121.45 348.21L116.35 348.21Z" fill="none" stroke="#ecb531" stroke-width="1.15" stroke-linejoin="miter"/>
<path d="M170.7 347.84L173.25 352.91L168.15 352.91Z" fill="none" stroke="#ecb531" stroke-width="1.15" stroke-linejoin="miter"/>
<path d="M222.3 324.84L224.85 329.91L219.75 329.91Z" fill="none" stroke="#ecb531" stroke-width="1.15" stroke-linejoin="miter"/>
<path d="M274.2 324.34L276.75 329.41L271.65 329.41Z" fill="none" stroke="#ecb531" stroke-width="1.15" stroke-linejoin="miter"/>
<line x1="67" y1="283.1" x2="67" y2="295.7" stroke="#2d4d9a" stroke-width="0.9" />
<line x1="64.4" y1="283.1" x2="69.6" y2="283.1" stroke="#2d4d9a" stroke-width="0.9" />
<line x1="118.9" y1="385.4" x2="118.9" y2="391.5" stroke="#2d4d9a" stroke-width="0.9" />
<line x1="116.3" y1="385.4" x2="121.5" y2="385.4" stroke="#2d4d9a" stroke-width="0.9" />
<line x1="170.7" y1="340.5" x2="170.7" y2="356.3" stroke="#2d4d9a" stroke-width="0.9" />
<line x1="168.1" y1="340.5" x2="173.3" y2="340.5" stroke="#2d4d9a" stroke-width="0.9" />
<line x1="222.3" y1="330" x2="222.3" y2="342.4" stroke="#2d4d9a" stroke-width="0.9" />
<line x1="219.7" y1="330" x2="224.9" y2="330" stroke="#2d4d9a" stroke-width="0.9" />
<line x1="274.2" y1="351.6" x2="274.2" y2="369.3" stroke="#2d4d9a" stroke-width="0.9" />
<line x1="271.6" y1="351.6" x2="276.8" y2="351.6" stroke="#2d4d9a" stroke-width="0.9" />
<polyline points="118.9,391.5 170.7,356.3 222.3,342.4 274.2,369.3" fill="none" stroke="#4a68b0" stroke-width="0.85" stroke-dasharray="1.2,0.9"/>
<path d="M67 298.56L69.55 293.49L64.45 293.49Z" fill="none" stroke="#2d4d9a" stroke-width="1.15" stroke-linejoin="miter"/>
<path d="M118.9 394.36L121.45 389.29L116.35 389.29Z" fill="none" stroke="#2d4d9a" stroke-width="1.15" stroke-linejoin="miter"/>
<path d="M170.7 359.16L173.25 354.09L168.15 354.09Z" fill="none" stroke="#2d4d9a" stroke-width="1.15" stroke-linejoin="miter"/>
<path d="M222.3 345.26L224.85 340.19L219.75 340.19Z" fill="none" stroke="#2d4d9a" stroke-width="1.15" stroke-linejoin="miter"/>
<path d="M274.2 372.16L276.75 367.09L271.65 367.09Z" fill="none" stroke="#2d4d9a" stroke-width="1.15" stroke-linejoin="miter"/>
<line x1="67" y1="292" x2="67" y2="311.9" stroke="#4b9bd3" stroke-width="0.9" />
<line x1="64.4" y1="292" x2="69.6" y2="292" stroke="#4b9bd3" stroke-width="0.9" />
<line x1="118.9" y1="378.9" x2="118.9" y2="397" stroke="#4b9bd3" stroke-width="0.9" />
<line x1="116.3" y1="378.9" x2="121.5" y2="378.9" stroke="#4b9bd3" stroke-width="0.9" />
<line x1="170.7" y1="364.6" x2="170.7" y2="379.9" stroke="#4b9bd3" stroke-width="0.9" />
<line x1="168.1" y1="364.6" x2="173.3" y2="364.6" stroke="#4b9bd3" stroke-width="0.9" />
<line x1="222.3" y1="367.7" x2="222.3" y2="384.6" stroke="#4b9bd3" stroke-width="0.9" />
<line x1="219.7" y1="367.7" x2="224.9" y2="367.7" stroke="#4b9bd3" stroke-width="0.9" />
<line x1="274.2" y1="379" x2="274.2" y2="397.3" stroke="#4b9bd3" stroke-width="0.9" />
<line x1="271.6" y1="379" x2="276.8" y2="379" stroke="#4b9bd3" stroke-width="0.9" />
<polyline points="118.9,397 170.7,379.9 222.3,384.6 274.2,397.3" fill="none" stroke="#4b9bd3" stroke-width="0.9" />
<path d="M67 308.91L69.99 311.9L67 314.89L64.01 311.9Z" fill="none" stroke="#4b9bd3" stroke-width="1.15"/>
<path d="M118.9 394.01L121.89 397L118.9 399.99L115.91 397Z" fill="none" stroke="#4b9bd3" stroke-width="1.15"/>
<path d="M170.7 376.91L173.69 379.9L170.7 382.89L167.71 379.9Z" fill="none" stroke="#4b9bd3" stroke-width="1.15"/>
<path d="M222.3 381.61L225.29 384.6L222.3 387.59L219.31 384.6Z" fill="none" stroke="#4b9bd3" stroke-width="1.15"/>
<path d="M274.2 394.31L277.19 397.3L274.2 400.29L271.21 397.3Z" fill="none" stroke="#4b9bd3" stroke-width="1.15"/>
<circle cx="304.3" cy="262.2" r="2.6" fill="none" stroke="#52ad45" stroke-width="1.2"/>
<line x1="303" y1="262.2" x2="305.6" y2="262.2" stroke="#52ad45" stroke-width="0.9" />
<text x="311" y="264.7" font-size="7" text-anchor="start" font-weight="normal" fill="#111" stroke="#111" stroke-width="0.12">Sham</text>
<rect x="301.7" y="270.5" width="5.2" height="5.2" fill="none" stroke="#ea6f36" stroke-width="1.2"/>
<line x1="303" y1="273.1" x2="305.6" y2="273.1" stroke="#ea6f36" stroke-width="0.9" />
<text x="311" y="275.6" font-size="7" text-anchor="start" font-weight="normal" fill="#111" stroke="#111" stroke-width="0.12">NTC</text>
<path d="M304.3 280.74L306.85 285.81L301.75 285.81Z" fill="none" stroke="#ecb531" stroke-width="1.2" stroke-linejoin="miter"/>
<line x1="303" y1="283.6" x2="305.6" y2="283.6" stroke="#ecb531" stroke-width="0.9" />
<text x="311" y="286.1" font-size="7" text-anchor="start" font-weight="normal" fill="#111" stroke="#111" stroke-width="0.12">DFO</text>
<path d="M304.3 297.06L306.85 291.99L301.75 291.99Z" fill="none" stroke="#2d4d9a" stroke-width="1.2" stroke-linejoin="miter"/>
<line x1="303" y1="294.2" x2="305.6" y2="294.2" stroke="#2d4d9a" stroke-width="0.9" />
<text x="311" y="296.7" font-size="7" text-anchor="start" font-weight="normal" fill="#111" stroke="#111" stroke-width="0.12">33° C</text>
<path d="M304.3 301.71L307.29 304.7L304.3 307.69L301.31 304.7Z" fill="none" stroke="#4b9bd3" stroke-width="1.2"/>
<line x1="303" y1="304.7" x2="305.6" y2="304.7" stroke="#4b9bd3" stroke-width="0.9" />
<text x="311" y="307.2" font-size="7" text-anchor="start" font-weight="normal" fill="#111" stroke="#111" stroke-width="0.12">36° C</text>
<text x="118.9" y="316" font-size="7" text-anchor="middle" font-weight="normal" fill="#ecb531" font-style="italic">#</text>
<text x="170.7" y="328.8" font-size="7" text-anchor="middle" font-weight="normal" fill="#ecb531" font-style="italic">#</text>
<text x="175" y="339.6" font-size="7" text-anchor="middle" font-weight="normal" fill="#2d4d9a" font-style="italic">#</text>
<text x="228.5" y="312.7" font-size="7" text-anchor="middle" font-weight="normal" fill="#ecb531" font-style="italic">##</text>
<text x="222.3" y="350.2" font-size="7" text-anchor="middle" font-weight="normal" fill="#2d4d9a" font-style="italic">#</text>
<text x="274.2" y="315.5" font-size="7" text-anchor="middle" font-weight="normal" fill="#ecb531" font-style="italic">##</text>
<circle cx="116.3" cy="375.7" r="1.1" fill="#4b9bd3"/>
<circle cx="121.5" cy="375.7" r="1.1" fill="#4b9bd3"/>
<circle cx="116.4" cy="398.9" r="1.1" fill="#2d4d9a"/>
<circle cx="121.6" cy="398.9" r="1.1" fill="#2d4d9a"/>
<circle cx="168.1" cy="361.3" r="1.1" fill="#4b9bd3"/>
<circle cx="173.3" cy="361.3" r="1.1" fill="#4b9bd3"/>
<circle cx="222.3" cy="362.4" r="1.1" fill="#4b9bd3"/>
<circle cx="271.6" cy="375.7" r="1.1" fill="#4b9bd3"/>
<circle cx="276.8" cy="375.7" r="1.1" fill="#4b9bd3"/>
<circle cx="113.7" cy="421.5" r="1.1" fill="#ea6f36"/>
<circle cx="118.9" cy="421.5" r="1.1" fill="#ea6f36"/>
<circle cx="124.1" cy="421.5" r="1.1" fill="#ea6f36"/>
<circle cx="165.5" cy="412.6" r="1.1" fill="#ea6f36"/>
<circle cx="170.7" cy="412.6" r="1.1" fill="#ea6f36"/>
<circle cx="175.9" cy="412.6" r="1.1" fill="#ea6f36"/>
<circle cx="217.1" cy="422.9" r="1.1" fill="#ea6f36"/>
<circle cx="222.3" cy="422.9" r="1.1" fill="#ea6f36"/>
<circle cx="227.5" cy="422.9" r="1.1" fill="#ea6f36"/>
<circle cx="269" cy="424.2" r="1.1" fill="#ea6f36"/>
<circle cx="274.2" cy="424.2" r="1.1" fill="#ea6f36"/>
<circle cx="279.4" cy="424.2" r="1.1" fill="#ea6f36"/>
<text x="360.2" y="249.4" font-size="8.6" text-anchor="start" font-weight="bold" fill="#111" >D</text>
<line x1="388.4" y1="247.6" x2="388.4" y2="435.9" stroke="#333" stroke-width="1.2" />
<line x1="385.6" y1="247.6" x2="388.4" y2="247.6" stroke="#333" stroke-width="1.0" />
<text x="384.8" y="250" font-size="6.8" text-anchor="end" font-weight="bold" fill="#111" >130</text>
<line x1="385.6" y1="278.9" x2="388.4" y2="278.9" stroke="#333" stroke-width="1.0" />
<text x="384.8" y="281.3" font-size="6.8" text-anchor="end" font-weight="bold" fill="#111" >120</text>
<line x1="385.6" y1="310.2" x2="388.4" y2="310.2" stroke="#333" stroke-width="1.0" />
<text x="384.8" y="312.6" font-size="6.8" text-anchor="end" font-weight="bold" fill="#111" >110</text>
<line x1="385.6" y1="341.5" x2="388.4" y2="341.5" stroke="#333" stroke-width="1.0" />
<text x="384.8" y="343.9" font-size="6.8" text-anchor="end" font-weight="bold" fill="#111" >100</text>
<line x1="385.6" y1="372.8" x2="388.4" y2="372.8" stroke="#333" stroke-width="1.0" />
<text x="384.8" y="375.2" font-size="6.8" text-anchor="end" font-weight="bold" fill="#111" >90</text>
<line x1="385.6" y1="404.1" x2="388.4" y2="404.1" stroke="#333" stroke-width="1.0" />
<text x="384.8" y="406.5" font-size="6.8" text-anchor="end" font-weight="bold" fill="#111" >80</text>
<line x1="385.6" y1="435.4" x2="388.4" y2="435.4" stroke="#333" stroke-width="1.0" />
<text x="384.8" y="437.8" font-size="6.8" text-anchor="end" font-weight="bold" fill="#111" >70</text>
<line x1="388.4" y1="435.4" x2="671" y2="435.4" stroke="#333" stroke-width="1.2" />
<line x1="423.4" y1="435.4" x2="423.4" y2="438.4" stroke="#333" stroke-width="1.0" />
<line x1="476.3" y1="435.4" x2="476.3" y2="438.4" stroke="#333" stroke-width="1.0" />
<line x1="529.4" y1="435.4" x2="529.4" y2="438.4" stroke="#333" stroke-width="1.0" />
<line x1="582.2" y1="435.4" x2="582.2" y2="438.4" stroke="#333" stroke-width="1.0" />
<line x1="635.2" y1="435.4" x2="635.2" y2="438.4" stroke="#333" stroke-width="1.0" />
<text x="-339.7" y="365.3" font-size="7.2" font-weight="bold" fill="#111" text-anchor="middle" transform="rotate(-90)" textLength="42.2" lengthAdjust="spacingAndGlyphs">MAP(mmHg)</text>
<rect x="441.6" y="249.6" width="12.2" height="182" fill="url(#hat)"/>
<text x="299.1" y="-444.6" font-size="8.5" font-weight="bold" fill="#111" transform="rotate(90)" textLength="78.5" lengthAdjust="spacingAndGlyphs">VF6 min+CPR8 min</text>
<text x="424.6" y="443.8" font-size="6.9" font-weight="bold" fill="#111" text-anchor="end" transform="rotate(-45 424.6 443.8)">Baseline</text>
<text x="477.5" y="443.8" font-size="6.9" font-weight="bold" fill="#111" text-anchor="end" transform="rotate(-45 477.5 443.8)">1 hour ROSC</text>
<text x="530.6" y="443.8" font-size="6.9" font-weight="bold" fill="#111" text-anchor="end" transform="rotate(-45 530.6 443.8)">2 hour ROSC</text>
<text x="583.4" y="443.8" font-size="6.9" font-weight="bold" fill="#111" text-anchor="end" transform="rotate(-45 583.4 443.8)">3 hour ROSC</text>
<text x="636.4" y="443.8" font-size="6.9" font-weight="bold" fill="#111" text-anchor="end" transform="rotate(-45 636.4 443.8)">4 hour ROSC</text>
<line x1="423.4" y1="277.4" x2="423.4" y2="286" stroke="#52ad45" stroke-width="0.9" />
<line x1="420.8" y1="277.4" x2="426" y2="277.4" stroke="#52ad45" stroke-width="0.9" />
<line x1="476.3" y1="316.6" x2="476.3" y2="320.2" stroke="#52ad45" stroke-width="0.9" />
<line x1="473.7" y1="316.6" x2="478.9" y2="316.6" stroke="#52ad45" stroke-width="0.9" />
<line x1="529.4" y1="324.2" x2="529.4" y2="327.6" stroke="#52ad45" stroke-width="0.9" />
<line x1="526.8" y1="324.2" x2="532" y2="324.2" stroke="#52ad45" stroke-width="0.9" />
<line x1="582.2" y1="331" x2="582.2" y2="334.2" stroke="#52ad45" stroke-width="0.9" />
<line x1="579.6" y1="331" x2="584.8" y2="331" stroke="#52ad45" stroke-width="0.9" />
<line x1="635.2" y1="331" x2="635.2" y2="334.9" stroke="#52ad45" stroke-width="0.9" />
<line x1="632.6" y1="331" x2="637.8" y2="331" stroke="#52ad45" stroke-width="0.9" />
<polyline points="476.3,320.2 529.4,327.6 582.2,334.2 635.2,334.9" fill="none" stroke="#52ad45" stroke-width="0.9" />
<circle cx="423.4" cy="286" r="2.6" fill="none" stroke="#52ad45" stroke-width="1.15"/>
<circle cx="476.3" cy="320.2" r="2.6" fill="none" stroke="#52ad45" stroke-width="1.15"/>
<circle cx="529.4" cy="327.6" r="2.6" fill="none" stroke="#52ad45" stroke-width="1.15"/>
<circle cx="582.2" cy="334.2" r="2.6" fill="none" stroke="#52ad45" stroke-width="1.15"/>
<circle cx="635.2" cy="334.9" r="2.6" fill="none" stroke="#52ad45" stroke-width="1.15"/>
<line x1="476.3" y1="392.5" x2="476.3" y2="405.1" stroke="#ea6f36" stroke-width="0.9" />
<line x1="473.7" y1="392.5" x2="478.9" y2="392.5" stroke="#ea6f36" stroke-width="0.9" />
<line x1="529.4" y1="404.6" x2="529.4" y2="410.4" stroke="#ea6f36" stroke-width="0.9" />
<line x1="526.8" y1="404.6" x2="532" y2="404.6" stroke="#ea6f36" stroke-width="0.9" />
<line x1="582.2" y1="392" x2="582.2" y2="406.7" stroke="#ea6f36" stroke-width="0.9" />
<line x1="579.6" y1="392" x2="584.8" y2="392" stroke="#ea6f36" stroke-width="0.9" />
<line x1="635.2" y1="389.3" x2="635.2" y2="404.3" stroke="#ea6f36" stroke-width="0.9" />
<line x1="632.6" y1="389.3" x2="637.8" y2="389.3" stroke="#ea6f36" stroke-width="0.9" />
<polyline points="476.3,405.1 529.4,410.4 582.2,406.7 635.2,404.3" fill="none" stroke="#ea6f36" stroke-width="0.9" stroke-dasharray="3,1.5"/>
<rect x="420.8" y="294" width="5.2" height="5.2" fill="none" stroke="#ea6f36" stroke-width="1.15"/>
<rect x="473.7" y="402.5" width="5.2" height="5.2" fill="none" stroke="#ea6f36" stroke-width="1.15"/>
<rect x="526.8" y="407.8" width="5.2" height="5.2" fill="none" stroke="#ea6f36" stroke-width="1.15"/>
<rect x="579.6" y="404.1" width="5.2" height="5.2" fill="none" stroke="#ea6f36" stroke-width="1.15"/>
<rect x="632.6" y="401.7" width="5.2" height="5.2" fill="none" stroke="#ea6f36" stroke-width="1.15"/>
<line x1="423.4" y1="268.6" x2="423.4" y2="271.6" stroke="#ecb531" stroke-width="0.9" />
<line x1="420.8" y1="268.6" x2="426" y2="268.6" stroke="#ecb531" stroke-width="0.9" />
<line x1="476.3" y1="329.4" x2="476.3" y2="354.4" stroke="#ecb531" stroke-width="0.9" />
<line x1="473.7" y1="329.4" x2="478.9" y2="329.4" stroke="#ecb531" stroke-width="0.9" />
<line x1="529.4" y1="334.2" x2="529.4" y2="348.1" stroke="#ecb531" stroke-width="0.9" />
<line x1="526.8" y1="334.2" x2="532" y2="334.2" stroke="#ecb531" stroke-width="0.9" />
<line x1="582.2" y1="334" x2="582.2" y2="338.1" stroke="#ecb531" stroke-width="0.9" />
<line x1="579.6" y1="334" x2="584.8" y2="334" stroke="#ecb531" stroke-width="0.9" />
<line x1="635.2" y1="329.4" x2="635.2" y2="338.6" stroke="#ecb531" stroke-width="0.9" />
<line x1="632.6" y1="329.4" x2="637.8" y2="329.4" stroke="#ecb531" stroke-width="0.9" />
<polyline points="476.3,354.4 529.4,348.1 582.2,338.1 635.2,338.6" fill="none" stroke="#ecb531" stroke-width="0.9" />
<path d="M423.4 268.74L425.95 273.81L420.85 273.81Z" fill="none" stroke="#ecb531" stroke-width="1.15" stroke-linejoin="miter"/>
<path d="M476.3 351.54L478.85 356.61L473.75 356.61Z" fill="none" stroke="#ecb531" stroke-width="1.15" stroke-linejoin="miter"/>
<path d="M529.4 345.24L531.95 350.31L526.85 350.31Z" fill="none" stroke="#ecb531" stroke-width="1.15" stroke-linejoin="miter"/>
<path d="M582.2 335.24L584.75 340.31L579.65 340.31Z" fill="none" stroke="#ecb531" stroke-width="1.15" stroke-linejoin="miter"/>
<path d="M635.2 335.74L637.75 340.81L632.65 340.81Z" fill="none" stroke="#ecb531" stroke-width="1.15" stroke-linejoin="miter"/>
<line x1="423.4" y1="275.6" x2="423.4" y2="287.4" stroke="#2d4d9a" stroke-width="0.9" />
<line x1="420.8" y1="275.6" x2="426" y2="275.6" stroke="#2d4d9a" stroke-width="0.9" />
<line x1="476.3" y1="364.4" x2="476.3" y2="373.6" stroke="#2d4d9a" stroke-width="0.9" />
<line x1="473.7" y1="364.4" x2="478.9" y2="364.4" stroke="#2d4d9a" stroke-width="0.9" />
<line x1="529.4" y1="326.3" x2="529.4" y2="338.1" stroke="#2d4d9a" stroke-width="0.9" />
<line x1="526.8" y1="326.3" x2="532" y2="326.3" stroke="#2d4d9a" stroke-width="0.9" />
<line x1="582.2" y1="317.6" x2="582.2" y2="328.1" stroke="#2d4d9a" stroke-width="0.9" />
<line x1="579.6" y1="317.6" x2="584.8" y2="317.6" stroke="#2d4d9a" stroke-width="0.9" />
<line x1="635.2" y1="342" x2="635.2" y2="359.1" stroke="#2d4d9a" stroke-width="0.9" />
<line x1="632.6" y1="342" x2="637.8" y2="342" stroke="#2d4d9a" stroke-width="0.9" />
<polyline points="476.3,373.6 529.4,338.1 582.2,328.1 635.2,359.1" fill="none" stroke="#4a68b0" stroke-width="0.85" stroke-dasharray="1.2,0.9"/>
<path d="M423.4 290.26L425.95 285.19L420.85 285.19Z" fill="none" stroke="#2d4d9a" stroke-width="1.15" stroke-linejoin="miter"/>
<path d="M476.3 376.46L478.85 371.39L473.75 371.39Z" fill="none" stroke="#2d4d9a" stroke-width="1.15" stroke-linejoin="miter"/>
<path d="M529.4 340.96L531.95 335.89L526.85 335.89Z" fill="none" stroke="#2d4d9a" stroke-width="1.15" stroke-linejoin="miter"/>
<path d="M582.2 330.96L584.75 325.89L579.65 325.89Z" fill="none" stroke="#2d4d9a" stroke-width="1.15" stroke-linejoin="miter"/>
<path d="M635.2 361.96L637.75 356.89L632.65 356.89Z" fill="none" stroke="#2d4d9a" stroke-width="1.15" stroke-linejoin="miter"/>
<line x1="423.4" y1="288.6" x2="423.4" y2="306" stroke="#4b9bd3" stroke-width="0.9" />
<line x1="420.8" y1="288.6" x2="426" y2="288.6" stroke="#4b9bd3" stroke-width="0.9" />
<line x1="476.3" y1="368.3" x2="476.3" y2="378.8" stroke="#4b9bd3" stroke-width="0.9" />
<line x1="473.7" y1="368.3" x2="478.9" y2="368.3" stroke="#4b9bd3" stroke-width="0.9" />
<line x1="529.4" y1="349.4" x2="529.4" y2="372.3" stroke="#4b9bd3" stroke-width="0.9" />
<line x1="526.8" y1="349.4" x2="532" y2="349.4" stroke="#4b9bd3" stroke-width="0.9" />
<line x1="582.2" y1="349.4" x2="582.2" y2="363.8" stroke="#4b9bd3" stroke-width="0.9" />
<line x1="579.6" y1="349.4" x2="584.8" y2="349.4" stroke="#4b9bd3" stroke-width="0.9" />
<line x1="635.2" y1="360.4" x2="635.2" y2="373" stroke="#4b9bd3" stroke-width="0.9" />
<line x1="632.6" y1="360.4" x2="637.8" y2="360.4" stroke="#4b9bd3" stroke-width="0.9" />
<polyline points="476.3,378.8 529.4,372.3 582.2,363.8 635.2,373" fill="none" stroke="#4b9bd3" stroke-width="0.9" />
<path d="M423.4 303.01L426.39 306L423.4 308.99L420.41 306Z" fill="none" stroke="#4b9bd3" stroke-width="1.15"/>
<path d="M476.3 375.81L479.29 378.8L476.3 381.79L473.31 378.8Z" fill="none" stroke="#4b9bd3" stroke-width="1.15"/>
<path d="M529.4 369.31L532.39 372.3L529.4 375.29L526.41 372.3Z" fill="none" stroke="#4b9bd3" stroke-width="1.15"/>
<path d="M582.2 360.81L585.19 363.8L582.2 366.79L579.21 363.8Z" fill="none" stroke="#4b9bd3" stroke-width="1.15"/>
<path d="M635.2 370.01L638.19 373L635.2 375.99L632.21 373Z" fill="none" stroke="#4b9bd3" stroke-width="1.15"/>
<circle cx="655.4" cy="262" r="2.6" fill="none" stroke="#52ad45" stroke-width="1.2"/>
<line x1="654.1" y1="262" x2="656.7" y2="262" stroke="#52ad45" stroke-width="0.9" />
<text x="661.9" y="264.5" font-size="7" text-anchor="start" font-weight="normal" fill="#111" stroke="#111" stroke-width="0.12">Sham</text>
<rect x="652.8" y="270.8" width="5.2" height="5.2" fill="none" stroke="#ea6f36" stroke-width="1.2"/>
<line x1="654.1" y1="273.4" x2="656.7" y2="273.4" stroke="#ea6f36" stroke-width="0.9" />
<text x="661.9" y="275.9" font-size="7" text-anchor="start" font-weight="normal" fill="#111" stroke="#111" stroke-width="0.12">NTC</text>
<path d="M655.4 281.14L657.95 286.21L652.85 286.21Z" fill="none" stroke="#ecb531" stroke-width="1.2" stroke-linejoin="miter"/>
<line x1="654.1" y1="284" x2="656.7" y2="284" stroke="#ecb531" stroke-width="0.9" />
<text x="661.9" y="286.5" font-size="7" text-anchor="start" font-weight="normal" fill="#111" stroke="#111" stroke-width="0.12">DFO</text>
<path d="M655.4 297.66L657.95 292.59L652.85 292.59Z" fill="none" stroke="#2d4d9a" stroke-width="1.2" stroke-linejoin="miter"/>
<line x1="654.1" y1="294.8" x2="656.7" y2="294.8" stroke="#2d4d9a" stroke-width="0.9" />
<text x="661.9" y="297.3" font-size="7" text-anchor="start" font-weight="normal" fill="#111" stroke="#111" stroke-width="0.12">33° C</text>
<path d="M655.4 302.31L658.39 305.3L655.4 308.29L652.41 305.3Z" fill="none" stroke="#4b9bd3" stroke-width="1.2"/>
<line x1="654.1" y1="305.3" x2="656.7" y2="305.3" stroke="#4b9bd3" stroke-width="0.9" />
<text x="661.9" y="307.8" font-size="7" text-anchor="start" font-weight="normal" fill="#111" stroke="#111" stroke-width="0.12">36° C</text>
<text x="535.7" y="324.5" font-size="7" text-anchor="middle" font-weight="normal" fill="#2d4d9a" font-style="italic">#</text>
<text x="535.7" y="353.4" font-size="7" text-anchor="middle" font-weight="normal" fill="#ecb531" font-style="italic">#</text>
<text x="582.2" y="314" font-size="7" text-anchor="middle" font-weight="normal" fill="#2d4d9a" font-style="italic">##</text>
<text x="582.2" y="346.3" font-size="7" text-anchor="middle" font-weight="normal" fill="#ecb531" font-style="italic">##</text>
<text x="635.2" y="324.5" font-size="7" text-anchor="middle" font-weight="normal" fill="#ecb531" font-style="italic">#</text>
<circle cx="473.7" cy="389.3" r="1.1" fill="#ea6f36"/>
<circle cx="478.9" cy="389.3" r="1.1" fill="#ea6f36"/>
<circle cx="526.8" cy="400.6" r="1.1" fill="#ea6f36"/>
<circle cx="532" cy="400.6" r="1.1" fill="#ea6f36"/>
<circle cx="579.6" cy="388" r="1.1" fill="#ea6f36"/>
<circle cx="584.8" cy="388" r="1.1" fill="#ea6f36"/>
<circle cx="632.6" cy="386.2" r="1.1" fill="#ea6f36"/>
<circle cx="637.8" cy="386.2" r="1.1" fill="#ea6f36"/>
<text x="2.6" y="500.6" font-size="8.8" text-anchor="start" font-weight="bold" fill="#111" >E</text>
<line x1="34.7" y1="511.4" x2="34.7" y2="684.7" stroke="#333" stroke-width="1.2" />
<line x1="31.9" y1="511.4" x2="34.7" y2="511.4" stroke="#333" stroke-width="1.0" />
<text x="32" y="513.8" font-size="7.3" text-anchor="end" font-weight="bold" fill="#111" >70</text>
<line x1="31.9" y1="554.6" x2="34.7" y2="554.6" stroke="#333" stroke-width="1.0" />
<text x="32" y="557" font-size="7.3" text-anchor="end" font-weight="bold" fill="#111" >60</text>
<line x1="31.9" y1="597.8" x2="34.7" y2="597.8" stroke="#333" stroke-width="1.0" />
<text x="32" y="600.2" font-size="7.3" text-anchor="end" font-weight="bold" fill="#111" >50</text>
<line x1="31.9" y1="641" x2="34.7" y2="641" stroke="#333" stroke-width="1.0" />
<text x="32" y="643.4" font-size="7.3" text-anchor="end" font-weight="bold" fill="#111" >40</text>
<line x1="31.9" y1="684.2" x2="34.7" y2="684.2" stroke="#333" stroke-width="1.0" />
<text x="32" y="686.6" font-size="7.3" text-anchor="end" font-weight="bold" fill="#111" >30</text>
<line x1="34.7" y1="684.1" x2="299.2" y2="684.1" stroke="#333" stroke-width="1.2" />
<line x1="77.9" y1="684.1" x2="77.9" y2="687.1" stroke="#333" stroke-width="1.0" />
<line x1="167.3" y1="684.1" x2="167.3" y2="687.1" stroke="#333" stroke-width="1.0" />
<line x1="256.8" y1="684.1" x2="256.8" y2="687.1" stroke="#333" stroke-width="1.0" />
<text x="-606.6" y="9.4" font-size="7.4" font-weight="bold" fill="#111" text-anchor="middle" transform="rotate(-90)" textLength="18.3" lengthAdjust="spacingAndGlyphs">LVEF</text>
<text x="-587.2" y="9.6" font-size="7.2" font-weight="bold" fill="#111" text-anchor="middle" transform="rotate(-90)" textLength="12.3" lengthAdjust="spacingAndGlyphs">(%)</text>
<rect x="88" y="508" width="12" height="173.7" fill="url(#hat)"/>
<text x="557.5" y="-90.9" font-size="8.5" font-weight="bold" fill="#111" transform="rotate(90)" textLength="78.5" lengthAdjust="spacingAndGlyphs">VF6 min+CPR8 min</text>
<text x="79.1" y="692.4" font-size="6.9" font-weight="bold" fill="#111" text-anchor="end" transform="rotate(-45 79.1 692.4)">Baseline</text>
<text x="168.5" y="692.4" font-size="6.9" font-weight="bold" fill="#111" text-anchor="end" transform="rotate(-45 168.5 692.4)">1 hour ROSC</text>
<text x="258" y="692.4" font-size="6.9" font-weight="bold" fill="#111" text-anchor="end" transform="rotate(-45 258 692.4)">4 hour ROSC</text>
<line x1="40.1" y1="512.5" x2="40.1" y2="544.6" stroke="#52ad45" stroke-width="0.9" />
<line x1="37.5" y1="512.5" x2="42.7" y2="512.5" stroke="#52ad45" stroke-width="0.9" />
<line x1="37.5" y1="544.6" x2="42.7" y2="544.6" stroke="#52ad45" stroke-width="0.9" />
<circle cx="40.1" cy="528.5" r="3" fill="none" stroke="#52ad45" stroke-width="1.2"/>
<line x1="48.5" y1="521" x2="48.5" y2="535.8" stroke="#ea6f36" stroke-width="0.9" />
<line x1="45.9" y1="521" x2="51.1" y2="521" stroke="#ea6f36" stroke-width="0.9" />
<line x1="45.9" y1="535.8" x2="51.1" y2="535.8" stroke="#ea6f36" stroke-width="0.9" />
<rect x="45.5" y="525.5" width="6" height="6" fill="none" stroke="#ea6f36" stroke-width="1.2"/>
<line x1="57" y1="519.4" x2="57" y2="544.3" stroke="#ecb531" stroke-width="0.9" />
<line x1="54.4" y1="519.4" x2="59.6" y2="519.4" stroke="#ecb531" stroke-width="0.9" />
<line x1="54.4" y1="544.3" x2="59.6" y2="544.3" stroke="#ecb531" stroke-width="0.9" />
<path d="M57 528.7L59.94 534.55L54.06 534.55Z" fill="none" stroke="#ecb531" stroke-width="1.2" stroke-linejoin="miter"/>
<line x1="65.4" y1="532.6" x2="65.4" y2="558.6" stroke="#2d4d9a" stroke-width="0.9" />
<line x1="62.8" y1="532.6" x2="68" y2="532.6" stroke="#2d4d9a" stroke-width="0.9" />
<line x1="62.8" y1="558.6" x2="68" y2="558.6" stroke="#2d4d9a" stroke-width="0.9" />
<path d="M65.4 547.9L68.34 542.05L62.46 542.05Z" fill="none" stroke="#2d4d9a" stroke-width="1.2" stroke-linejoin="miter"/>
<line x1="73.9" y1="532.6" x2="73.9" y2="548.1" stroke="#5fb0e0" stroke-width="0.9" />
<line x1="71.3" y1="532.6" x2="76.5" y2="532.6" stroke="#5fb0e0" stroke-width="0.9" />
<line x1="71.3" y1="548.1" x2="76.5" y2="548.1" stroke="#5fb0e0" stroke-width="0.9" />
<path d="M73.9 537.15L77.35 540.6L73.9 544.05L70.45 540.6Z" fill="none" stroke="#5fb0e0" stroke-width="1.2"/>
<line x1="171.1" y1="514.7" x2="171.1" y2="545.2" stroke="#52ad45" stroke-width="0.9" />
<line x1="168.5" y1="514.7" x2="173.7" y2="514.7" stroke="#52ad45" stroke-width="0.9" />
<line x1="168.5" y1="545.2" x2="173.7" y2="545.2" stroke="#52ad45" stroke-width="0.9" />
<circle cx="171.1" cy="529.7" r="3" fill="none" stroke="#52ad45" stroke-width="1.2"/>
<line x1="179.4" y1="642.3" x2="179.4" y2="682.5" stroke="#ea6f36" stroke-width="0.9" />
<line x1="176.8" y1="642.3" x2="182" y2="642.3" stroke="#ea6f36" stroke-width="0.9" />
<line x1="176.8" y1="682.5" x2="182" y2="682.5" stroke="#ea6f36" stroke-width="0.9" />
<rect x="176.4" y="659.3" width="6" height="6" fill="none" stroke="#ea6f36" stroke-width="1.2"/>
<line x1="187.7" y1="612.3" x2="187.7" y2="650.3" stroke="#ecb531" stroke-width="0.9" />
<line x1="185.1" y1="612.3" x2="190.3" y2="612.3" stroke="#ecb531" stroke-width="0.9" />
<line x1="185.1" y1="650.3" x2="190.3" y2="650.3" stroke="#ecb531" stroke-width="0.9" />
<path d="M187.7 628.5L190.64 634.35L184.76 634.35Z" fill="none" stroke="#ecb531" stroke-width="1.2" stroke-linejoin="miter"/>
<line x1="196" y1="618.7" x2="196" y2="644.2" stroke="#2d4d9a" stroke-width="0.9" />
<line x1="193.4" y1="618.7" x2="198.6" y2="618.7" stroke="#2d4d9a" stroke-width="0.9" />
<line x1="193.4" y1="644.2" x2="198.6" y2="644.2" stroke="#2d4d9a" stroke-width="0.9" />
<path d="M196 633.7L198.94 627.85L193.06 627.85Z" fill="none" stroke="#2d4d9a" stroke-width="1.2" stroke-linejoin="miter"/>
<line x1="204.3" y1="639.3" x2="204.3" y2="671.2" stroke="#5fb0e0" stroke-width="0.9" />
<line x1="201.7" y1="639.3" x2="206.9" y2="639.3" stroke="#5fb0e0" stroke-width="0.9" />
<line x1="201.7" y1="671.2" x2="206.9" y2="671.2" stroke="#5fb0e0" stroke-width="0.9" />
<path d="M204.3 651.85L207.75 655.3L204.3 658.75L200.85 655.3Z" fill="none" stroke="#5fb0e0" stroke-width="1.2"/>
<line x1="260.4" y1="516.6" x2="260.4" y2="539.4" stroke="#52ad45" stroke-width="0.9" />
<line x1="257.8" y1="516.6" x2="263" y2="516.6" stroke="#52ad45" stroke-width="0.9" />
<line x1="257.8" y1="539.4" x2="263" y2="539.4" stroke="#52ad45" stroke-width="0.9" />
<circle cx="260.4" cy="528" r="3" fill="none" stroke="#52ad45" stroke-width="1.2"/>
<line x1="268.7" y1="629.3" x2="268.7" y2="654.2" stroke="#ea6f36" stroke-width="0.9" />
<line x1="266.1" y1="629.3" x2="271.3" y2="629.3" stroke="#ea6f36" stroke-width="0.9" />
<line x1="266.1" y1="654.2" x2="271.3" y2="654.2" stroke="#ea6f36" stroke-width="0.9" />
<rect x="265.7" y="638.7" width="6" height="6" fill="none" stroke="#ea6f36" stroke-width="1.2"/>
<line x1="277" y1="600.4" x2="277" y2="628.2" stroke="#ecb531" stroke-width="0.9" />
<line x1="274.4" y1="600.4" x2="279.6" y2="600.4" stroke="#ecb531" stroke-width="0.9" />
<line x1="274.4" y1="628.2" x2="279.6" y2="628.2" stroke="#ecb531" stroke-width="0.9" />
<path d="M277 611.3L279.94 617.15L274.06 617.15Z" fill="none" stroke="#ecb531" stroke-width="1.2" stroke-linejoin="miter"/>
<line x1="285.3" y1="592.4" x2="285.3" y2="627.6" stroke="#2d4d9a" stroke-width="0.9" />
<line x1="282.7" y1="592.4" x2="287.9" y2="592.4" stroke="#2d4d9a" stroke-width="0.9" />
<line x1="282.7" y1="627.6" x2="287.9" y2="627.6" stroke="#2d4d9a" stroke-width="0.9" />
<path d="M285.3 613.4L288.24 607.55L282.36 607.55Z" fill="none" stroke="#2d4d9a" stroke-width="1.2" stroke-linejoin="miter"/>
<line x1="293.7" y1="612.3" x2="293.7" y2="654.2" stroke="#5fb0e0" stroke-width="0.9" />
<line x1="291.1" y1="612.3" x2="296.3" y2="612.3" stroke="#5fb0e0" stroke-width="0.9" />
<line x1="291.1" y1="654.2" x2="296.3" y2="654.2" stroke="#5fb0e0" stroke-width="0.9" />
<path d="M293.7 629.95L297.15 633.4L293.7 636.85L290.25 633.4Z" fill="none" stroke="#5fb0e0" stroke-width="1.2"/>
<circle cx="303.2" cy="519.2" r="3" fill="none" stroke="#52ad45" stroke-width="1.2"/>
<text x="309.8" y="521.7" font-size="7" text-anchor="start" font-weight="normal" fill="#111" stroke="#111" stroke-width="0.12">Sham</text>
<rect x="300.2" y="529.5" width="6" height="6" fill="none" stroke="#ea6f36" stroke-width="1.2"/>
<text x="309.8" y="535" font-size="7" text-anchor="start" font-weight="normal" fill="#111" stroke="#111" stroke-width="0.12">NTC</text>
<path d="M303.2 543.6L306.14 549.45L300.26 549.45Z" fill="none" stroke="#ecb531" stroke-width="1.2" stroke-linejoin="miter"/>
<text x="309.8" y="549.4" font-size="7" text-anchor="start" font-weight="normal" fill="#111" stroke="#111" stroke-width="0.12">DFO</text>
<path d="M303.2 563.1L306.14 557.25L300.26 557.25Z" fill="none" stroke="#2d4d9a" stroke-width="1.2" stroke-linejoin="miter"/>
<text x="309.8" y="562.3" font-size="7" text-anchor="start" font-weight="normal" fill="#111" stroke="#111" stroke-width="0.12">33° C</text>
<path d="M304.4 568.85L307.85 572.3L304.4 575.75L300.95 572.3Z" fill="none" stroke="#5fb0e0" stroke-width="1.2"/>
<text x="311" y="574.8" font-size="7" text-anchor="start" font-weight="normal" fill="#111" stroke="#111" stroke-width="0.12">36° C</text>
<circle cx="170.8" cy="638.8" r="1.1" fill="#ea6f36"/>
<circle cx="176.4" cy="638.8" r="1.1" fill="#ea6f36"/>
<circle cx="182" cy="638.8" r="1.1" fill="#ea6f36"/>
<circle cx="182.5" cy="609.7" r="1.1" fill="#ecb531"/>
<circle cx="188.1" cy="609.7" r="1.1" fill="#ecb531"/>
<circle cx="193.7" cy="609.7" r="1.1" fill="#ecb531"/>
<circle cx="190.3" cy="615.9" r="1.1" fill="#2d4d9a"/>
<circle cx="195.9" cy="615.9" r="1.1" fill="#2d4d9a"/>
<circle cx="201.5" cy="615.9" r="1.1" fill="#2d4d9a"/>
<circle cx="200.5" cy="636.5" r="1.1" fill="#5fb0e0"/>
<circle cx="206.1" cy="636.5" r="1.1" fill="#5fb0e0"/>
<circle cx="211.7" cy="636.5" r="1.1" fill="#5fb0e0"/>
<text x="188.1" y="604.4" font-size="7" text-anchor="middle" font-weight="normal" fill="#ecb531" font-style="italic">#</text>
<text x="197.3" y="612.1" font-size="7" text-anchor="middle" font-weight="normal" fill="#2d4d9a" font-style="italic">#</text>
<circle cx="263.1" cy="625.8" r="1.1" fill="#ea6f36"/>
<circle cx="268.7" cy="625.8" r="1.1" fill="#ea6f36"/>
<circle cx="274.3" cy="625.8" r="1.1" fill="#ea6f36"/>
<circle cx="271.6" cy="598.3" r="1.1" fill="#ecb531"/>
<circle cx="277.2" cy="598.3" r="1.1" fill="#ecb531"/>
<circle cx="282.8" cy="598.3" r="1.1" fill="#ecb531"/>
<circle cx="281.1" cy="589.9" r="1.1" fill="#2d4d9a"/>
<circle cx="286.7" cy="589.9" r="1.1" fill="#2d4d9a"/>
<circle cx="292.3" cy="589.9" r="1.1" fill="#2d4d9a"/>
<circle cx="291.2" cy="609.1" r="1.1" fill="#5fb0e0"/>
<circle cx="296.8" cy="609.1" r="1.1" fill="#5fb0e0"/>
<circle cx="302.4" cy="609.1" r="1.1" fill="#5fb0e0"/>
<text x="276" y="593.7" font-size="7" text-anchor="middle" font-weight="normal" fill="#ecb531" font-style="italic">#</text>
<text x="285.5" y="586.8" font-size="7" text-anchor="middle" font-weight="normal" fill="#2d4d9a" font-style="italic">#</text>
<text x="360.3" y="496.3" font-size="9.6" text-anchor="start" font-weight="bold" fill="#111" >F</text>
<text x="419.6" y="504" font-size="7.6" text-anchor="middle" font-weight="bold" fill="#111" >Baseline</text>
<text x="521.2" y="504" font-size="7.6" text-anchor="middle" font-weight="bold" fill="#111" >1 hour ROSC</text>
<text x="631.6" y="504" font-size="7.6" text-anchor="middle" font-weight="bold" fill="#111" >4 hour ROSC</text>
<text x="350.5" y="528.7" font-size="7.6" text-anchor="start" font-weight="bold" fill="#111" >Sham</text>
<text x="350.5" y="571.2" font-size="7.6" text-anchor="start" font-weight="bold" fill="#111" >NTC</text>
<text x="350.5" y="615.2" font-size="7.6" text-anchor="start" font-weight="bold" fill="#111" >DFO</text>
<text x="350.5" y="658.6" font-size="7.6" text-anchor="start" font-weight="bold" fill="#111" >33° C</text>
<text x="350.5" y="702.3" font-size="7.6" text-anchor="start" font-weight="bold" fill="#111" >36° C</text>
<g style="filter:saturate(1.2)">
<clipPath id="c0"><rect x="376" y="506.3" width="100.9" height="39.4"/></clipPath>
<g clip-path="url(#c0)">
<rect x="376" y="506.3" width="100.9" height="39.4" fill="#85420f"/>
<rect x="376" y="532.7" width="100.9" height="13" fill="#c48834"/>
<rect x="376" y="506.3" width="100.9" height="11.82" fill="#c48430"/>
<path d="M369.45 516.92L375.15 516.92L372.3 521.32ZM374.94 516.92L380.64 516.92L377.79 521.32ZM380.84 516.92L386.54 516.92L383.69 521.32ZM386.69 516.92L392.39 516.92L389.54 521.32ZM392.25 516.92L397.95 516.92L395.1 521.32ZM397.95 516.92L403.65 516.92L400.8 521.32ZM403.62 516.92L409.32 516.92L406.47 521.32ZM409.41 516.92L415.11 516.92L412.26 521.32ZM415.27 516.92L420.97 516.92L418.12 521.32ZM420.74 516.92L426.44 516.92L423.59 521.32ZM426.17 516.92L431.87 516.92L429.02 521.32ZM432.06 516.92L437.76 516.92L434.91 521.32ZM437.72 516.92L443.42 516.92L440.57 521.32ZM443.57 516.92L449.27 516.92L446.42 521.32ZM448.99 516.92L454.69 516.92L451.84 521.32ZM454.66 516.92L460.36 516.92L457.51 521.32ZM460.48 516.92L466.18 516.92L463.33 521.32ZM466.03 516.92L471.73 516.92L468.88 521.32ZM471.98 516.92L477.68 516.92L474.83 521.32ZM477.91 516.92L483.61 516.92L480.76 521.32Z" fill="#d39c38" opacity="0.95"/>
<polyline points="369.45,517.52 372.3,520.72 374.94,517.52 377.79,520.72 380.84,517.52 383.69,520.72 386.69,517.52 389.54,520.72 392.25,517.52 395.1,520.72 397.95,517.52 400.8,520.72 403.62,517.52 406.47,520.72 409.41,517.52 412.26,520.72 415.27,517.52 418.12,520.72 420.74,517.52 423.59,520.72 426.17,517.52 429.02,520.72 432.06,517.52 434.91,520.72 437.72,517.52 440.57,520.72 443.57,517.52 446.42,520.72 448.99,517.52 451.84,520.72 454.66,517.52 457.51,520.72 460.48,517.52 463.33,520.72 466.03,517.52 468.88,520.72 471.98,517.52 474.83,520.72 477.91,517.52 480.76,520.72" fill="none" stroke="#f2d264" stroke-width="0.9" opacity="0.6"/>
<rect x="376" y="510.29" width="100.9" height="0.92" fill="#f2cf50" opacity="0.73"/>
<rect x="376" y="512.89" width="100.9" height="0.73" fill="#f2cf50" opacity="0.52"/>
<rect x="376" y="510.31" width="100.9" height="0.73" fill="#f2cf50" opacity="0.53"/>
<rect x="376" y="513.73" width="100.9" height="0.74" fill="#f2cf50" opacity="0.44"/>
<rect x="376" y="511.7" width="100.9" height="0.88" fill="#f2cf50" opacity="0.47"/>
<rect x="376" y="510.26" width="100.9" height="1.1" fill="#f2cf50" opacity="0.57"/>
<path d="M370.02 533.11L372.3 525.11L374.58 533.11ZM375.51 533.11L377.79 525.11L380.07 533.11ZM381.41 533.11L383.69 525.11L385.97 533.11ZM387.26 533.11L389.54 525.11L391.82 533.11ZM392.82 533.11L395.1 525.11L397.38 533.11ZM398.52 533.11L400.8 525.11L403.08 533.11ZM404.19 533.11L406.47 525.11L408.75 533.11ZM409.98 533.11L412.26 525.11L414.54 533.11ZM415.84 533.11L418.12 525.11L420.4 533.11ZM421.31 533.11L423.59 525.11L425.87 533.11ZM426.74 533.11L429.02 525.11L431.3 533.11ZM432.63 533.11L434.91 525.11L437.19 533.11ZM438.29 533.11L440.57 525.11L442.85 533.11ZM444.14 533.11L446.42 525.11L448.7 533.11ZM449.56 533.11L451.84 525.11L454.12 533.11ZM455.23 533.11L457.51 525.11L459.79 533.11ZM461.05 533.11L463.33 525.11L465.61 533.11ZM466.6 533.11L468.88 525.11L471.16 533.11ZM472.55 533.11L474.83 525.11L477.11 533.11ZM478.48 533.11L480.76 525.11L483.04 533.11Z" fill="#cc9030" opacity="0.95"/>
<polygon points="369.45,532.7 372.3,531.1 374.94,532.7 377.79,531.1 380.84,532.7 383.69,531.1 386.69,532.7 389.54,531.1 392.25,532.7 395.1,531.1 397.95,532.7 400.8,531.1 403.62,532.7 406.47,531.1 409.41,532.7 412.26,531.1 415.27,532.7 418.12,531.1 420.74,532.7 423.59,531.1 426.17,532.7 429.02,531.1 432.06,532.7 434.91,531.1 437.72,532.7 440.57,531.1 443.57,532.7 446.42,531.1 448.99,532.7 451.84,531.1 454.66,532.7 457.51,531.1 460.48,532.7 463.33,531.1 466.03,532.7 468.88,531.1 471.98,532.7 474.83,531.1 477.91,532.7 480.76,531.1 478.9,537.43 374,537.43" fill="#f7ee7c" opacity="1"/>
<rect x="376" y="537.43" width="100.9" height="1.97" fill="url(#bf)"/>
<rect x="376" y="506.3" width="100.9" height="11.82" filter="url(#nzd)" opacity="0.3"/>
<rect x="376" y="506.3" width="100.9" height="11.82" filter="url(#nzl)" opacity="0.42"/>
<rect x="376" y="518.12" width="100.9" height="14.58" filter="url(#nzl)" opacity="0.18"/>
<rect x="376" y="535.53" width="100.9" height="10.17" filter="url(#nzv)" opacity="0.2"/>
<rect x="376" y="535.53" width="100.9" height="10.17" filter="url(#nzv2)" opacity="0.5"/>
<rect x="376" y="506.3" width="100.9" height="39.4" filter="url(#nzf)" opacity="0.35"/>
<rect x="376" y="506.3" width="100.9" height="2.7" fill="#8a4a14"/>
<rect x="376" y="508.1" width="100.9" height="0.9" fill="#5a2a06"/>
<rect x="376" y="509.5" width="100.9" height="1.1" fill="#f6e07a" opacity="0.9"/>
</g>
<clipPath id="c1"><rect x="480" y="506.3" width="100" height="39.4"/></clipPath>
<g clip-path="url(#c1)">
<rect x="480" y="506.3" width="100" height="39.4" fill="#85420f"/>
<rect x="480" y="532.3" width="100" height="13.4" fill="#a86219"/>
<rect x="480" y="506.3" width="100" height="11.82" fill="#bc7a28"/>
<path d="M473.15 516.92L479.05 516.92L476.1 521.12ZM478.89 516.92L484.79 516.92L481.84 521.12ZM485.06 516.92L490.96 516.92L488.01 521.12ZM490.74 516.92L496.64 516.92L493.69 521.12ZM496.76 516.92L502.66 516.92L499.71 521.12ZM502.42 516.92L508.32 516.92L505.37 521.12ZM508.17 516.92L514.07 516.92L511.12 521.12ZM514.36 516.92L520.26 516.92L517.31 521.12ZM520.09 516.92L525.99 516.92L523.04 521.12ZM526.07 516.92L531.97 516.92L529.02 521.12ZM531.95 516.92L537.85 516.92L534.9 521.12ZM537.82 516.92L543.72 516.92L540.77 521.12ZM543.72 516.92L549.62 516.92L546.67 521.12ZM549.44 516.92L555.34 516.92L552.39 521.12ZM555.53 516.92L561.43 516.92L558.48 521.12ZM561.19 516.92L567.09 516.92L564.14 521.12ZM566.93 516.92L572.83 516.92L569.88 521.12ZM572.55 516.92L578.45 516.92L575.5 521.12ZM578.31 516.92L584.21 516.92L581.26 521.12Z" fill="#d39c38" opacity="0.95"/>
<polyline points="473.15,517.52 476.1,520.52 478.89,517.52 481.84,520.52 485.06,517.52 488.01,520.52 490.74,517.52 493.69,520.52 496.76,517.52 499.71,520.52 502.42,517.52 505.37,520.52 508.17,517.52 511.12,520.52 514.36,517.52 517.31,520.52 520.09,517.52 523.04,520.52 526.07,517.52 529.02,520.52 531.95,517.52 534.9,520.52 537.82,517.52 540.77,520.52 543.72,517.52 546.67,520.52 549.44,517.52 552.39,520.52 555.53,517.52 558.48,520.52 561.19,517.52 564.14,520.52 566.93,517.52 569.88,520.52 572.55,517.52 575.5,520.52 578.31,517.52 581.26,520.52" fill="none" stroke="#f2d264" stroke-width="0.9" opacity="0.6"/>
<rect x="480" y="516.7" width="100" height="0.83" fill="#f2cf50" opacity="0.4"/>
<rect x="480" y="511.99" width="100" height="1.19" fill="#f2cf50" opacity="0.38"/>
<rect x="480" y="514.64" width="100" height="0.83" fill="#f2cf50" opacity="0.61"/>
<rect x="480" y="512.58" width="100" height="1.01" fill="#f2cf50" opacity="0.55"/>
<rect x="480" y="514.86" width="100" height="1.14" fill="#f2cf50" opacity="0.58"/>
<rect x="480" y="511.14" width="100" height="0.64" fill="#f2cf50" opacity="0.73"/>
<path d="M473.74 532.52L476.1 525.52L478.46 532.52ZM479.48 532.52L481.84 525.52L484.2 532.52ZM485.65 532.52L488.01 525.52L490.37 532.52ZM491.33 532.52L493.69 525.52L496.05 532.52ZM497.35 532.52L499.71 525.52L502.07 532.52ZM503.01 532.52L505.37 525.52L507.73 532.52ZM508.76 532.52L511.12 525.52L513.48 532.52ZM514.95 532.52L517.31 525.52L519.67 532.52ZM520.68 532.52L523.04 525.52L525.4 532.52ZM526.66 532.52L529.02 525.52L531.38 532.52ZM532.54 532.52L534.9 525.52L537.26 532.52ZM538.41 532.52L540.77 525.52L543.13 532.52ZM544.31 532.52L546.67 525.52L549.03 532.52ZM550.03 532.52L552.39 525.52L554.75 532.52ZM556.12 532.52L558.48 525.52L560.84 532.52ZM561.78 532.52L564.14 525.52L566.5 532.52ZM567.52 532.52L569.88 525.52L572.24 532.52ZM573.14 532.52L575.5 525.52L577.86 532.52ZM578.9 532.52L581.26 525.52L583.62 532.52Z" fill="#cc9030" opacity="0.95"/>
<polygon points="473.15,532.3 476.1,530.7 478.89,532.3 481.84,530.7 485.06,532.3 488.01,530.7 490.74,532.3 493.69,530.7 496.76,532.3 499.71,530.7 502.42,532.3 505.37,530.7 508.17,532.3 511.12,530.7 514.36,532.3 517.31,530.7 520.09,532.3 523.04,530.7 526.07,532.3 529.02,530.7 531.95,532.3 534.9,530.7 537.82,532.3 540.77,530.7 543.72,532.3 546.67,530.7 549.44,532.3 552.39,530.7 555.53,532.3 558.48,530.7 561.19,532.3 564.14,530.7 566.93,532.3 569.88,530.7 572.55,532.3 575.5,530.7 578.31,532.3 581.26,530.7 582,536.24 478,536.24" fill="#f7ee7c" opacity="1"/>
<rect x="480" y="536.24" width="100" height="1.97" fill="url(#bf)"/>
<rect x="480" y="506.3" width="100" height="11.82" filter="url(#nzd)" opacity="0.3"/>
<rect x="480" y="506.3" width="100" height="11.82" filter="url(#nzl)" opacity="0.42"/>
<rect x="480" y="518.12" width="100" height="14.18" filter="url(#nzl)" opacity="0.18"/>
<rect x="480" y="534.67" width="100" height="11.03" filter="url(#nzv)" opacity="0.3"/>
<rect x="480" y="534.67" width="100" height="11.03" filter="url(#nzv2)" opacity="0.2"/>
<rect x="480" y="506.3" width="100" height="39.4" filter="url(#nzf)" opacity="0.35"/>
<rect x="480" y="506.3" width="100" height="2.7" fill="#8a4a14"/>
<rect x="480" y="508.1" width="100" height="0.9" fill="#5a2a06"/>
<rect x="480" y="509.5" width="100" height="1.1" fill="#f6e07a" opacity="0.9"/>
</g>
<clipPath id="c2"><rect x="583" y="506.3" width="99.4" height="39.4"/></clipPath>
<g clip-path="url(#c2)">
<rect x="583" y="506.3" width="99.4" height="39.4" fill="#85420f"/>
<rect x="583" y="531.52" width="99.4" height="14.18" fill="#c48834"/>
<rect x="583" y="506.3" width="99.4" height="11.82" fill="#c48430"/>
<path d="M575.85 516.92L581.95 516.92L578.9 521.12ZM582.23 516.92L588.33 516.92L585.28 521.12ZM588.04 516.92L594.14 516.92L591.09 521.12ZM594.28 516.92L600.38 516.92L597.33 521.12ZM600.17 516.92L606.27 516.92L603.22 521.12ZM606.57 516.92L612.67 516.92L609.62 521.12ZM612.37 516.92L618.47 516.92L615.42 521.12ZM618.7 516.92L624.8 516.92L621.75 521.12ZM624.92 516.92L631.02 516.92L627.97 521.12ZM631.23 516.92L637.33 516.92L634.28 521.12ZM637.64 516.92L643.74 516.92L640.69 521.12ZM643.58 516.92L649.68 516.92L646.63 521.12ZM649.58 516.92L655.68 516.92L652.63 521.12ZM655.81 516.92L661.91 516.92L658.86 521.12ZM661.77 516.92L667.87 516.92L664.82 521.12ZM667.73 516.92L673.83 516.92L670.78 521.12ZM673.66 516.92L679.76 516.92L676.71 521.12ZM679.98 516.92L686.08 516.92L683.03 521.12Z" fill="#d39c38" opacity="0.95"/>
<polyline points="575.85,517.52 578.9,520.52 582.23,517.52 585.28,520.52 588.04,517.52 591.09,520.52 594.28,517.52 597.33,520.52 600.17,517.52 603.22,520.52 606.57,517.52 609.62,520.52 612.37,517.52 615.42,520.52 618.7,517.52 621.75,520.52 624.92,517.52 627.97,520.52 631.23,517.52 634.28,520.52 637.64,517.52 640.69,520.52 643.58,517.52 646.63,520.52 649.58,517.52 652.63,520.52 655.81,517.52 658.86,520.52 661.77,517.52 664.82,520.52 667.73,517.52 670.78,520.52 673.66,517.52 676.71,520.52 679.98,517.52 683.03,520.52" fill="none" stroke="#f2d264" stroke-width="0.9" opacity="0.6"/>
<rect x="583" y="515.94" width="99.4" height="0.73" fill="#f2cf50" opacity="0.72"/>
<rect x="583" y="513.84" width="99.4" height="0.74" fill="#f2cf50" opacity="0.53"/>
<rect x="583" y="513.17" width="99.4" height="0.65" fill="#f2cf50" opacity="0.58"/>
<rect x="583" y="512.73" width="99.4" height="0.94" fill="#f2cf50" opacity="0.72"/>
<rect x="583" y="514.83" width="99.4" height="0.84" fill="#f2cf50" opacity="0.7"/>
<rect x="583" y="517.38" width="99.4" height="0.89" fill="#f2cf50" opacity="0.73"/>
<path d="M576.46 532.12L578.9 525.12L581.34 532.12ZM582.84 532.12L585.28 525.12L587.72 532.12ZM588.65 532.12L591.09 525.12L593.53 532.12ZM594.89 532.12L597.33 525.12L599.77 532.12ZM600.78 532.12L603.22 525.12L605.66 532.12ZM607.18 532.12L609.62 525.12L612.06 532.12ZM612.98 532.12L615.42 525.12L617.86 532.12ZM619.31 532.12L621.75 525.12L624.19 532.12ZM625.53 532.12L627.97 525.12L630.41 532.12ZM631.84 532.12L634.28 525.12L636.72 532.12ZM638.25 532.12L640.69 525.12L643.13 532.12ZM644.19 532.12L646.63 525.12L649.07 532.12ZM650.19 532.12L652.63 525.12L655.07 532.12ZM656.42 532.12L658.86 525.12L661.3 532.12ZM662.38 532.12L664.82 525.12L667.26 532.12ZM668.34 532.12L670.78 525.12L673.22 532.12ZM674.27 532.12L676.71 525.12L679.15 532.12ZM680.59 532.12L683.03 525.12L685.47 532.12Z" fill="#cc9030" opacity="0.95"/>
<polygon points="575.85,531.52 578.9,529.92 582.23,531.52 585.28,529.92 588.04,531.52 591.09,529.92 594.28,531.52 597.33,529.92 600.17,531.52 603.22,529.92 606.57,531.52 609.62,529.92 612.37,531.52 615.42,529.92 618.7,531.52 621.75,529.92 624.92,531.52 627.97,529.92 631.23,531.52 634.28,529.92 637.64,531.52 640.69,529.92 643.58,531.52 646.63,529.92 649.58,531.52 652.63,529.92 655.81,531.52 658.86,529.92 661.77,531.52 664.82,529.92 667.73,531.52 670.78,529.92 673.66,531.52 676.71,529.92 679.98,531.52 683.03,529.92 684.4,537.82 581,537.82" fill="#f7ee7c" opacity="1"/>
<rect x="583" y="537.82" width="99.4" height="1.97" fill="url(#bf)"/>
<rect x="583" y="506.3" width="99.4" height="11.82" filter="url(#nzd)" opacity="0.3"/>
<rect x="583" y="506.3" width="99.4" height="11.82" filter="url(#nzl)" opacity="0.42"/>
<rect x="583" y="518.12" width="99.4" height="13.4" filter="url(#nzl)" opacity="0.18"/>
<rect x="583" y="535.3" width="99.4" height="10.4" filter="url(#nzv)" opacity="0.2"/>
<rect x="583" y="535.3" width="99.4" height="10.4" filter="url(#nzv2)" opacity="0.5"/>
<rect x="583" y="506.3" width="99.4" height="39.4" filter="url(#nzf)" opacity="0.35"/>
<rect x="583" y="506.3" width="99.4" height="2.7" fill="#8a4a14"/>
<rect x="583" y="508.1" width="99.4" height="0.9" fill="#5a2a06"/>
<rect x="583" y="509.5" width="99.4" height="1.1" fill="#f6e07a" opacity="0.9"/>
</g>
<clipPath id="c3"><rect x="376" y="549" width="100.9" height="39"/></clipPath>
<g clip-path="url(#c3)">
<rect x="376" y="549" width="100.9" height="39" fill="#85420f"/>
<rect x="376" y="575.13" width="100.9" height="12.87" fill="#c48834"/>
<rect x="376" y="549" width="100.9" height="11.7" fill="#c48430"/>
<path d="M369.6 559.5L375.2 559.5L372.4 563.7ZM375.46 559.5L381.06 559.5L378.26 563.7ZM380.86 559.5L386.46 559.5L383.66 563.7ZM386.19 559.5L391.79 559.5L388.99 563.7ZM392.07 559.5L397.67 559.5L394.87 563.7ZM397.49 559.5L403.09 559.5L400.29 563.7ZM402.88 559.5L408.48 559.5L405.68 563.7ZM408.56 559.5L414.16 559.5L411.36 563.7ZM414.08 559.5L419.68 559.5L416.88 563.7ZM419.89 559.5L425.49 559.5L422.69 563.7ZM425.34 559.5L430.94 559.5L428.14 563.7ZM431.2 559.5L436.8 559.5L434 563.7ZM436.7 559.5L442.3 559.5L439.5 563.7ZM442.36 559.5L447.96 559.5L445.16 563.7ZM448.2 559.5L453.8 559.5L451 563.7ZM453.9 559.5L459.5 559.5L456.7 563.7ZM459.74 559.5L465.34 559.5L462.54 563.7ZM465.46 559.5L471.06 559.5L468.26 563.7ZM470.8 559.5L476.4 559.5L473.6 563.7ZM476.62 559.5L482.22 559.5L479.42 563.7Z" fill="#d39c38" opacity="0.95"/>
<polyline points="369.6,560.1 372.4,563.1 375.46,560.1 378.26,563.1 380.86,560.1 383.66,563.1 386.19,560.1 388.99,563.1 392.07,560.1 394.87,563.1 397.49,560.1 400.29,563.1 402.88,560.1 405.68,563.1 408.56,560.1 411.36,563.1 414.08,560.1 416.88,563.1 419.89,560.1 422.69,563.1 425.34,560.1 428.14,563.1 431.2,560.1 434,563.1 436.7,560.1 439.5,563.1 442.36,560.1 445.16,563.1 448.2,560.1 451,563.1 453.9,560.1 456.7,563.1 459.74,560.1 462.54,563.1 465.46,560.1 468.26,563.1 470.8,560.1 473.6,563.1 476.62,560.1 479.42,563.1" fill="none" stroke="#f2d264" stroke-width="0.9" opacity="0.6"/>
<rect x="376" y="555.04" width="100.9" height="0.71" fill="#f2cf50" opacity="0.69"/>
<rect x="376" y="557" width="100.9" height="1.16" fill="#f2cf50" opacity="0.66"/>
<rect x="376" y="559.72" width="100.9" height="0.94" fill="#f2cf50" opacity="0.63"/>
<rect x="376" y="557.21" width="100.9" height="0.76" fill="#f2cf50" opacity="0.73"/>
<rect x="376" y="555.05" width="100.9" height="1.07" fill="#f2cf50" opacity="0.73"/>
<rect x="376" y="557.49" width="100.9" height="0.69" fill="#f2cf50" opacity="0.68"/>
<path d="M370.16 575.74L372.4 567.74L374.64 575.74ZM376.02 575.74L378.26 567.74L380.5 575.74ZM381.42 575.74L383.66 567.74L385.9 575.74ZM386.75 575.74L388.99 567.74L391.23 575.74ZM392.63 575.74L394.87 567.74L397.11 575.74ZM398.05 575.74L400.29 567.74L402.53 575.74ZM403.44 575.74L405.68 567.74L407.92 575.74ZM409.12 575.74L411.36 567.74L413.6 575.74ZM414.64 575.74L416.88 567.74L419.12 575.74ZM420.45 575.74L422.69 567.74L424.93 575.74ZM425.9 575.74L428.14 567.74L430.38 575.74ZM431.76 575.74L434 567.74L436.24 575.74ZM437.26 575.74L439.5 567.74L441.74 575.74ZM442.92 575.74L445.16 567.74L447.4 575.74ZM448.76 575.74L451 567.74L453.24 575.74ZM454.46 575.74L456.7 567.74L458.94 575.74ZM460.3 575.74L462.54 567.74L464.78 575.74ZM466.02 575.74L468.26 567.74L470.5 575.74ZM471.36 575.74L473.6 567.74L475.84 575.74ZM477.18 575.74L479.42 567.74L481.66 575.74Z" fill="#cc9030" opacity="0.95"/>
<polygon points="369.6,575.13 372.4,573.53 375.46,575.13 378.26,573.53 380.86,575.13 383.66,573.53 386.19,575.13 388.99,573.53 392.07,575.13 394.87,573.53 397.49,575.13 400.29,573.53 402.88,575.13 405.68,573.53 408.56,575.13 411.36,573.53 414.08,575.13 416.88,573.53 419.89,575.13 422.69,573.53 425.34,575.13 428.14,573.53 431.2,575.13 434,573.53 436.7,575.13 439.5,573.53 442.36,575.13 445.16,573.53 448.2,575.13 451,573.53 453.9,575.13 456.7,573.53 459.74,575.13 462.54,573.53 465.46,575.13 468.26,573.53 470.8,575.13 473.6,573.53 476.62,575.13 479.42,573.53 478.9,579.81 374,579.81" fill="#f7ee7c" opacity="1"/>
<rect x="376" y="579.81" width="100.9" height="1.95" fill="url(#bf)"/>
<rect x="376" y="549" width="100.9" height="11.7" filter="url(#nzd)" opacity="0.3"/>
<rect x="376" y="549" width="100.9" height="11.7" filter="url(#nzl)" opacity="0.42"/>
<rect x="376" y="560.7" width="100.9" height="14.43" filter="url(#nzl)" opacity="0.18"/>
<rect x="376" y="577.94" width="100.9" height="10.06" filter="url(#nzv)" opacity="0.2"/>
<rect x="376" y="577.94" width="100.9" height="10.06" filter="url(#nzv2)" opacity="0.5"/>
<rect x="376" y="549" width="100.9" height="39" filter="url(#nzf)" opacity="0.35"/>
<rect x="376" y="549" width="100.9" height="2.7" fill="#8a4a14"/>
<rect x="376" y="550.8" width="100.9" height="0.9" fill="#5a2a06"/>
<rect x="376" y="552.2" width="100.9" height="1.1" fill="#f6e07a" opacity="0.9"/>
</g>
<clipPath id="c4"><rect x="480" y="549" width="100" height="39"/></clipPath>
<g clip-path="url(#c4)">
<rect x="480" y="549" width="100" height="39" fill="#85420f"/>
<rect x="480" y="574.74" width="100" height="13.26" fill="#9a5418"/>
<rect x="480" y="549" width="100" height="11.7" fill="#a05a18"/>
<path d="M472.4 559.5L478.8 559.5L475.6 562.7ZM478.83 559.5L485.23 559.5L482.03 562.7ZM485.13 559.5L491.53 559.5L488.33 562.7ZM491.75 559.5L498.15 559.5L494.95 562.7ZM498.02 559.5L504.42 559.5L501.22 562.7ZM504.42 559.5L510.82 559.5L507.62 562.7ZM510.72 559.5L517.12 559.5L513.92 562.7ZM517.07 559.5L523.47 559.5L520.27 562.7ZM523.77 559.5L530.17 559.5L526.97 562.7ZM529.92 559.5L536.32 559.5L533.12 562.7ZM536.28 559.5L542.68 559.5L539.48 562.7ZM542.51 559.5L548.91 559.5L545.71 562.7ZM548.81 559.5L555.21 559.5L552.01 562.7ZM555.53 559.5L561.93 559.5L558.73 562.7ZM561.82 559.5L568.22 559.5L565.02 562.7ZM568.29 559.5L574.69 559.5L571.49 562.7ZM574.64 559.5L581.04 559.5L577.84 562.7ZM581.19 559.5L587.59 559.5L584.39 562.7Z" fill="#d39c38" opacity="0.95"/>
<polyline points="472.4,560.1 475.6,562.1 478.83,560.1 482.03,562.1 485.13,560.1 488.33,562.1 491.75,560.1 494.95,562.1 498.02,560.1 501.22,562.1 504.42,560.1 507.62,562.1 510.72,560.1 513.92,562.1 517.07,560.1 520.27,562.1 523.77,560.1 526.97,562.1 529.92,560.1 533.12,562.1 536.28,560.1 539.48,562.1 542.51,560.1 545.71,562.1 548.81,560.1 552.01,562.1 555.53,560.1 558.73,562.1 561.82,560.1 565.02,562.1 568.29,560.1 571.49,562.1 574.64,560.1 577.84,562.1 581.19,560.1 584.39,562.1" fill="none" stroke="#f2d264" stroke-width="0.9" opacity="0.6"/>
<rect x="480" y="554.03" width="100" height="0.86" fill="#f2cf50" opacity="0.51"/>
<rect x="480" y="558.51" width="100" height="0.94" fill="#f2cf50" opacity="0.43"/>
<rect x="480" y="557.65" width="100" height="0.78" fill="#f2cf50" opacity="0.55"/>
<path d="M472.4 575.74L475.6 571.74L478.8 575.74ZM478.83 575.74L482.03 571.74L485.23 575.74ZM485.13 575.74L488.33 571.74L491.53 575.74ZM491.75 575.74L494.95 571.74L498.15 575.74ZM498.02 575.74L501.22 571.74L504.42 575.74ZM504.42 575.74L507.62 571.74L510.82 575.74ZM510.72 575.74L513.92 571.74L517.12 575.74ZM517.07 575.74L520.27 571.74L523.47 575.74ZM523.77 575.74L526.97 571.74L530.17 575.74ZM529.92 575.74L533.12 571.74L536.32 575.74ZM536.28 575.74L539.48 571.74L542.68 575.74ZM542.51 575.74L545.71 571.74L548.91 575.74ZM548.81 575.74L552.01 571.74L555.21 575.74ZM555.53 575.74L558.73 571.74L561.93 575.74ZM561.82 575.74L565.02 571.74L568.22 575.74ZM568.29 575.74L571.49 571.74L574.69 575.74ZM574.64 575.74L577.84 571.74L581.04 575.74ZM581.19 575.74L584.39 571.74L587.59 575.74Z" fill="#cc9030" opacity="0.95"/>
<polygon points="472.4,574.74 475.6,573.14 478.83,574.74 482.03,573.14 485.13,574.74 488.33,573.14 491.75,574.74 494.95,573.14 498.02,574.74 501.22,573.14 504.42,574.74 507.62,573.14 510.72,574.74 513.92,573.14 517.07,574.74 520.27,573.14 523.77,574.74 526.97,573.14 529.92,574.74 533.12,573.14 536.28,574.74 539.48,573.14 542.51,574.74 545.71,573.14 548.81,574.74 552.01,573.14 555.53,574.74 558.73,573.14 561.82,574.74 565.02,573.14 568.29,574.74 571.49,573.14 574.64,574.74 577.84,573.14 581.19,574.74 584.39,573.14 582,578.25 478,578.25" fill="#f7ee7c" opacity="1"/>
<rect x="480" y="578.25" width="100" height="1.95" fill="url(#bf)"/>
<rect x="508" y="575.74" width="4" height="7.8" fill="#7a4010" opacity="0.7"/>
<rect x="549" y="575.74" width="4" height="7.8" fill="#7a4010" opacity="0.7"/>
<rect x="480" y="549" width="100" height="11.7" filter="url(#nzd)" opacity="0.3"/>
<rect x="480" y="549" width="100" height="11.7" filter="url(#nzl)" opacity="0.42"/>
<rect x="480" y="560.7" width="100" height="14.04" filter="url(#nzl)" opacity="0.18"/>
<rect x="480" y="576.85" width="100" height="11.15" filter="url(#nzv)" opacity="0.3"/>
<rect x="480" y="576.85" width="100" height="11.15" filter="url(#nzv2)" opacity="0.2"/>
<rect x="480" y="549" width="100" height="39" filter="url(#nzf)" opacity="0.35"/>
<rect x="480" y="549" width="100" height="3.5" fill="#8a4a14"/>
<rect x="480" y="551.6" width="100" height="0.9" fill="#5a2a06"/>
<rect x="480" y="553" width="100" height="1.1" fill="#f6e07a" opacity="0.9"/>
</g>
<clipPath id="c5"><rect x="583" y="549" width="99.4" height="39"/></clipPath>
<g clip-path="url(#c5)">
<rect x="583" y="549" width="99.4" height="39" fill="#85420f"/>
<rect x="583" y="576.69" width="99.4" height="11.31" fill="#9a5418"/>
<rect x="583" y="549" width="99.4" height="11.7" fill="#a86420"/>
<path d="M575.1 559.5L581.7 559.5L578.4 563.2ZM581.59 559.5L588.19 559.5L584.89 563.2ZM588.51 559.5L595.11 559.5L591.81 563.2ZM595.41 559.5L602.01 559.5L598.71 563.2ZM602.29 559.5L608.89 559.5L605.59 563.2ZM609.08 559.5L615.68 559.5L612.38 563.2ZM615.92 559.5L622.52 559.5L619.22 563.2ZM622.19 559.5L628.79 559.5L625.49 563.2ZM628.88 559.5L635.48 559.5L632.18 563.2ZM635.31 559.5L641.91 559.5L638.61 563.2ZM642.06 559.5L648.66 559.5L645.36 563.2ZM648.62 559.5L655.22 559.5L651.92 563.2ZM655.26 559.5L661.86 559.5L658.56 563.2ZM661.89 559.5L668.49 559.5L665.19 563.2ZM668.54 559.5L675.14 559.5L671.84 563.2ZM675.35 559.5L681.95 559.5L678.65 563.2ZM682.27 559.5L688.87 559.5L685.57 563.2Z" fill="#d39c38" opacity="0.95"/>
<polyline points="575.1,560.1 578.4,562.6 581.59,560.1 584.89,562.6 588.51,560.1 591.81,562.6 595.41,560.1 598.71,562.6 602.29,560.1 605.59,562.6 609.08,560.1 612.38,562.6 615.92,560.1 619.22,562.6 622.19,560.1 625.49,562.6 628.88,560.1 632.18,562.6 635.31,560.1 638.61,562.6 642.06,560.1 645.36,562.6 648.62,560.1 651.92,562.6 655.26,560.1 658.56,562.6 661.89,560.1 665.19,562.6 668.54,560.1 671.84,562.6 675.35,560.1 678.65,562.6 682.27,560.1 685.57,562.6" fill="none" stroke="#f2d264" stroke-width="0.9" opacity="0.6"/>
<rect x="583" y="558.6" width="99.4" height="1.13" fill="#f2cf50" opacity="0.51"/>
<rect x="583" y="553.69" width="99.4" height="0.9" fill="#f2cf50" opacity="0.66"/>
<rect x="583" y="556.57" width="99.4" height="0.71" fill="#f2cf50" opacity="0.63"/>
<rect x="583" y="555.14" width="99.4" height="1.13" fill="#f2cf50" opacity="0.42"/>
<path d="M575.1 576.52L578.4 572.52L581.7 576.52ZM581.59 576.52L584.89 572.52L588.19 576.52ZM588.51 576.52L591.81 572.52L595.11 576.52ZM595.41 576.52L598.71 572.52L602.01 576.52ZM602.29 576.52L605.59 572.52L608.89 576.52ZM609.08 576.52L612.38 572.52L615.68 576.52ZM615.92 576.52L619.22 572.52L622.52 576.52ZM622.19 576.52L625.49 572.52L628.79 576.52ZM628.88 576.52L632.18 572.52L635.48 576.52ZM635.31 576.52L638.61 572.52L641.91 576.52ZM642.06 576.52L645.36 572.52L648.66 576.52ZM648.62 576.52L651.92 572.52L655.22 576.52ZM655.26 576.52L658.56 572.52L661.86 576.52ZM661.89 576.52L665.19 572.52L668.49 576.52ZM668.54 576.52L671.84 572.52L675.14 576.52ZM675.35 576.52L678.65 572.52L681.95 576.52ZM682.27 576.52L685.57 572.52L688.87 576.52Z" fill="#cc9030" opacity="0.95"/>
<polygon points="575.1,576.69 578.4,575.09 581.59,576.69 584.89,575.09 588.51,576.69 591.81,575.09 595.41,576.69 598.71,575.09 602.29,576.69 605.59,575.09 609.08,576.69 612.38,575.09 615.92,576.69 619.22,575.09 622.19,576.69 625.49,575.09 628.88,576.69 632.18,575.09 635.31,576.69 638.61,575.09 642.06,576.69 645.36,575.09 648.62,576.69 651.92,575.09 655.26,576.69 658.56,575.09 661.89,576.69 665.19,575.09 668.54,576.69 671.84,575.09 675.35,576.69 678.65,575.09 682.27,576.69 685.57,575.09 684.4,580.59 581,580.59" fill="#f7ee7c" opacity="1"/>
<rect x="583" y="580.59" width="99.4" height="1.95" fill="url(#bf)"/>
<line x1="583" y1="582.59" x2="682.4" y2="582.59" stroke="#f0d070" stroke-width="0.8" stroke-dasharray="2.5,1.5" opacity="0.7"/>
<line x1="583" y1="585.19" x2="682.4" y2="585.19" stroke="#f0d070" stroke-width="0.8" stroke-dasharray="2.5,1.5" opacity="0.7"/>
<line x1="583" y1="587.79" x2="682.4" y2="587.79" stroke="#f0d070" stroke-width="0.8" stroke-dasharray="2.5,1.5" opacity="0.7"/>
<rect x="583" y="549" width="99.4" height="11.7" filter="url(#nzd)" opacity="0.3"/>
<rect x="583" y="549" width="99.4" height="11.7" filter="url(#nzl)" opacity="0.42"/>
<rect x="583" y="560.7" width="99.4" height="15.99" filter="url(#nzl)" opacity="0.18"/>
<rect x="583" y="579.03" width="99.4" height="8.97" filter="url(#nzv)" opacity="0.3"/>
<rect x="583" y="579.03" width="99.4" height="8.97" filter="url(#nzv2)" opacity="0.2"/>
<rect x="583" y="549" width="99.4" height="39" filter="url(#nzf)" opacity="0.35"/>
<rect x="583" y="549" width="99.4" height="3.2" fill="#8a4a14"/>
<rect x="583" y="551.3" width="99.4" height="0.9" fill="#5a2a06"/>
<rect x="583" y="552.7" width="99.4" height="1.1" fill="#f6e07a" opacity="0.9"/>
</g>
<clipPath id="c6"><rect x="376" y="592.7" width="100.9" height="39.6"/></clipPath>
<g clip-path="url(#c6)">
<rect x="376" y="592.7" width="100.9" height="39.6" fill="#85420f"/>
<rect x="376" y="618.04" width="100.9" height="14.26" fill="#c48834"/>
<rect x="376" y="592.7" width="100.9" height="11.29" fill="#c48430"/>
<path d="M369.45 602.79L375.15 602.79L372.3 607.19ZM374.89 602.79L380.59 602.79L377.74 607.19ZM380.7 602.79L386.4 602.79L383.55 607.19ZM386.2 602.79L391.9 602.79L389.05 607.19ZM391.87 602.79L397.57 602.79L394.72 607.19ZM397.67 602.79L403.37 602.79L400.52 607.19ZM403.54 602.79L409.24 602.79L406.39 607.19ZM409.21 602.79L414.91 602.79L412.06 607.19ZM414.91 602.79L420.61 602.79L417.76 607.19ZM420.34 602.79L426.04 602.79L423.19 607.19ZM426 602.79L431.7 602.79L428.85 607.19ZM431.63 602.79L437.33 602.79L434.48 607.19ZM437.53 602.79L443.23 602.79L440.38 607.19ZM443.25 602.79L448.95 602.79L446.1 607.19ZM449.1 602.79L454.8 602.79L451.95 607.19ZM454.76 602.79L460.46 602.79L457.61 607.19ZM460.28 602.79L465.98 602.79L463.13 607.19ZM466.18 602.79L471.88 602.79L469.03 607.19ZM472.06 602.79L477.76 602.79L474.91 607.19ZM477.69 602.79L483.39 602.79L480.54 607.19Z" fill="#d39c38" opacity="0.95"/>
<polyline points="369.45,603.39 372.3,606.59 374.89,603.39 377.74,606.59 380.7,603.39 383.55,606.59 386.2,603.39 389.05,606.59 391.87,603.39 394.72,606.59 397.67,603.39 400.52,606.59 403.54,603.39 406.39,606.59 409.21,603.39 412.06,606.59 414.91,603.39 417.76,606.59 420.34,603.39 423.19,606.59 426,603.39 428.85,606.59 431.63,603.39 434.48,606.59 437.53,603.39 440.38,606.59 443.25,603.39 446.1,606.59 449.1,603.39 451.95,606.59 454.76,603.39 457.61,606.59 460.28,603.39 463.13,606.59 466.18,603.39 469.03,606.59 472.06,603.39 474.91,606.59 477.69,603.39 480.54,606.59" fill="none" stroke="#f2d264" stroke-width="0.9" opacity="0.6"/>
<rect x="376" y="599.98" width="100.9" height="0.9" fill="#f2cf50" opacity="0.66"/>
<rect x="376" y="600.55" width="100.9" height="0.9" fill="#f2cf50" opacity="0.58"/>
<rect x="376" y="599.06" width="100.9" height="0.63" fill="#f2cf50" opacity="0.37"/>
<rect x="376" y="602.89" width="100.9" height="1.1" fill="#f2cf50" opacity="0.47"/>
<rect x="376" y="602.53" width="100.9" height="0.91" fill="#f2cf50" opacity="0.39"/>
<rect x="376" y="602.31" width="100.9" height="0.95" fill="#f2cf50" opacity="0.72"/>
<path d="M370.02 619.04L372.3 611.04L374.58 619.04ZM375.46 619.04L377.74 611.04L380.02 619.04ZM381.27 619.04L383.55 611.04L385.83 619.04ZM386.77 619.04L389.05 611.04L391.33 619.04ZM392.44 619.04L394.72 611.04L397 619.04ZM398.24 619.04L400.52 611.04L402.8 619.04ZM404.11 619.04L406.39 611.04L408.67 619.04ZM409.78 619.04L412.06 611.04L414.34 619.04ZM415.48 619.04L417.76 611.04L420.04 619.04ZM420.91 619.04L423.19 611.04L425.47 619.04ZM426.57 619.04L428.85 611.04L431.13 619.04ZM432.2 619.04L434.48 611.04L436.76 619.04ZM438.1 619.04L440.38 611.04L442.66 619.04ZM443.82 619.04L446.1 611.04L448.38 619.04ZM449.67 619.04L451.95 611.04L454.23 619.04ZM455.33 619.04L457.61 611.04L459.89 619.04ZM460.85 619.04L463.13 611.04L465.41 619.04ZM466.75 619.04L469.03 611.04L471.31 619.04ZM472.63 619.04L474.91 611.04L477.19 619.04ZM478.26 619.04L480.54 611.04L482.82 619.04Z" fill="#cc9030" opacity="0.95"/>
<polygon points="369.45,618.04 372.3,616.44 374.89,618.04 377.74,616.44 380.7,618.04 383.55,616.44 386.2,618.04 389.05,616.44 391.87,618.04 394.72,616.44 397.67,618.04 400.52,616.44 403.54,618.04 406.39,616.44 409.21,618.04 412.06,616.44 414.91,618.04 417.76,616.44 420.34,618.04 423.19,616.44 426,618.04 428.85,616.44 431.63,618.04 434.48,616.44 437.53,618.04 440.38,616.44 443.25,618.04 446.1,616.44 449.1,618.04 451.95,616.44 454.76,618.04 457.61,616.44 460.28,618.04 463.13,616.44 466.18,618.04 469.03,616.44 472.06,618.04 474.91,616.44 477.69,618.04 480.54,616.44 478.9,623.98 374,623.98" fill="#f7ee7c" opacity="1"/>
<rect x="376" y="623.98" width="100.9" height="1.98" fill="url(#bf)"/>
<rect x="376" y="592.7" width="100.9" height="11.29" filter="url(#nzd)" opacity="0.3"/>
<rect x="376" y="592.7" width="100.9" height="11.29" filter="url(#nzl)" opacity="0.42"/>
<rect x="376" y="603.99" width="100.9" height="14.06" filter="url(#nzl)" opacity="0.18"/>
<rect x="376" y="621.61" width="100.9" height="10.69" filter="url(#nzv)" opacity="0.2"/>
<rect x="376" y="621.61" width="100.9" height="10.69" filter="url(#nzv2)" opacity="0.5"/>
<rect x="376" y="592.7" width="100.9" height="39.6" filter="url(#nzf)" opacity="0.35"/>
<rect x="376" y="592.7" width="100.9" height="2.7" fill="#8a4a14"/>
<rect x="376" y="594.5" width="100.9" height="0.9" fill="#5a2a06"/>
<rect x="376" y="595.9" width="100.9" height="1.1" fill="#f6e07a" opacity="0.9"/>
</g>
<clipPath id="c7"><rect x="480" y="592.7" width="100" height="39.6"/></clipPath>
<g clip-path="url(#c7)">
<rect x="480" y="592.7" width="100" height="39.6" fill="#85420f"/>
<rect x="480" y="617.25" width="100" height="15.05" fill="#a86219"/>
<rect x="480" y="592.7" width="100" height="11.09" fill="#a86420"/>
<path d="M472.55 602.59L478.85 602.59L475.7 605.79ZM478.85 602.59L485.15 602.59L482 605.79ZM485 602.59L491.3 602.59L488.15 605.79ZM491.39 602.59L497.69 602.59L494.54 605.79ZM497.53 602.59L503.83 602.59L500.68 605.79ZM503.81 602.59L510.11 602.59L506.96 605.79ZM510.4 602.59L516.7 602.59L513.55 605.79ZM516.44 602.59L522.74 602.59L519.59 605.79ZM522.63 602.59L528.93 602.59L525.78 605.79ZM529.04 602.59L535.34 602.59L532.19 605.79ZM535.08 602.59L541.38 602.59L538.23 605.79ZM541.16 602.59L547.46 602.59L544.31 605.79ZM547.66 602.59L553.96 602.59L550.81 605.79ZM554.27 602.59L560.57 602.59L557.42 605.79ZM560.45 602.59L566.75 602.59L563.6 605.79ZM566.56 602.59L572.86 602.59L569.71 605.79ZM573.15 602.59L579.45 602.59L576.3 605.79ZM579.35 602.59L585.65 602.59L582.5 605.79Z" fill="#d39c38" opacity="0.95"/>
<polyline points="472.55,603.19 475.7,605.19 478.85,603.19 482,605.19 485,603.19 488.15,605.19 491.39,603.19 494.54,605.19 497.53,603.19 500.68,605.19 503.81,603.19 506.96,605.19 510.4,603.19 513.55,605.19 516.44,603.19 519.59,605.19 522.63,603.19 525.78,605.19 529.04,603.19 532.19,605.19 535.08,603.19 538.23,605.19 541.16,603.19 544.31,605.19 547.66,603.19 550.81,605.19 554.27,603.19 557.42,605.19 560.45,603.19 563.6,605.19 566.56,603.19 569.71,605.19 573.15,603.19 576.3,605.19 579.35,603.19 582.5,605.19" fill="none" stroke="#f2d264" stroke-width="0.9" opacity="0.6"/>
<rect x="480" y="600.5" width="100" height="0.98" fill="#f2cf50" opacity="0.72"/>
<rect x="480" y="602.84" width="100" height="1.02" fill="#f2cf50" opacity="0.68"/>
<rect x="480" y="601.73" width="100" height="0.99" fill="#f2cf50" opacity="0.52"/>
<path d="M472.55 618.25L475.7 614.25L478.85 618.25ZM478.85 618.25L482 614.25L485.15 618.25ZM485 618.25L488.15 614.25L491.3 618.25ZM491.39 618.25L494.54 614.25L497.69 618.25ZM497.53 618.25L500.68 614.25L503.83 618.25ZM503.81 618.25L506.96 614.25L510.11 618.25ZM510.4 618.25L513.55 614.25L516.7 618.25ZM516.44 618.25L519.59 614.25L522.74 618.25ZM522.63 618.25L525.78 614.25L528.93 618.25ZM529.04 618.25L532.19 614.25L535.34 618.25ZM535.08 618.25L538.23 614.25L541.38 618.25ZM541.16 618.25L544.31 614.25L547.46 618.25ZM547.66 618.25L550.81 614.25L553.96 618.25ZM554.27 618.25L557.42 614.25L560.57 618.25ZM560.45 618.25L563.6 614.25L566.75 618.25ZM566.56 618.25L569.71 614.25L572.86 618.25ZM573.15 618.25L576.3 614.25L579.45 618.25ZM579.35 618.25L582.5 614.25L585.65 618.25Z" fill="#cc9030" opacity="0.95"/>
<polygon points="472.55,617.25 475.7,615.65 478.85,617.25 482,615.65 485,617.25 488.15,615.65 491.39,617.25 494.54,615.65 497.53,617.25 500.68,615.65 503.81,617.25 506.96,615.65 510.4,617.25 513.55,615.65 516.44,617.25 519.59,615.65 522.63,617.25 525.78,615.65 529.04,617.25 532.19,615.65 535.08,617.25 538.23,615.65 541.16,617.25 544.31,615.65 547.66,617.25 550.81,615.65 554.27,617.25 557.42,615.65 560.45,617.25 563.6,615.65 566.56,617.25 569.71,615.65 573.15,617.25 576.3,615.65 579.35,617.25 582.5,615.65 582,623.59 478,623.59" fill="#f7ee7c" opacity="1"/>
<rect x="480" y="623.59" width="100" height="1.98" fill="url(#bf)"/>
<rect x="514" y="618.25" width="4" height="7.92" fill="#7a4010" opacity="0.7"/>
<rect x="551" y="618.25" width="4" height="7.92" fill="#7a4010" opacity="0.7"/>
<rect x="480" y="592.7" width="100" height="11.09" filter="url(#nzd)" opacity="0.3"/>
<rect x="480" y="592.7" width="100" height="11.09" filter="url(#nzl)" opacity="0.42"/>
<rect x="480" y="603.79" width="100" height="13.46" filter="url(#nzl)" opacity="0.18"/>
<rect x="480" y="621.05" width="100" height="11.25" filter="url(#nzv)" opacity="0.3"/>
<rect x="480" y="621.05" width="100" height="11.25" filter="url(#nzv2)" opacity="0.2"/>
<rect x="480" y="592.7" width="100" height="39.6" filter="url(#nzf)" opacity="0.35"/>
<rect x="480" y="592.7" width="100" height="3.3" fill="#8a4a14"/>
<rect x="480" y="595.1" width="100" height="0.9" fill="#5a2a06"/>
<rect x="480" y="596.5" width="100" height="1.1" fill="#f6e07a" opacity="0.9"/>
</g>
<clipPath id="c8"><rect x="583" y="592.7" width="99.4" height="39.6"/></clipPath>
<g clip-path="url(#c8)">
<rect x="583" y="592.7" width="99.4" height="39.6" fill="#85420f"/>
<rect x="583" y="619.63" width="99.4" height="12.67" fill="#9a5418"/>
<rect x="583" y="592.7" width="99.4" height="13.07" fill="#9a5418"/>
<path d="M574.5 604.57L581.5 604.57L578 609.27ZM581.18 604.57L588.18 604.57L584.68 609.27ZM588.24 604.57L595.24 604.57L591.74 609.27ZM594.91 604.57L601.91 604.57L598.41 609.27ZM601.92 604.57L608.92 604.57L605.42 609.27ZM609.25 604.57L616.25 604.57L612.75 609.27ZM616.1 604.57L623.1 604.57L619.6 609.27ZM623.43 604.57L630.43 604.57L626.93 609.27ZM630.53 604.57L637.53 604.57L634.03 609.27ZM637.8 604.57L644.8 604.57L641.3 609.27ZM644.46 604.57L651.46 604.57L647.96 609.27ZM651.63 604.57L658.63 604.57L655.13 609.27ZM658.64 604.57L665.64 604.57L662.14 609.27ZM665.71 604.57L672.71 604.57L669.21 609.27ZM672.63 604.57L679.63 604.57L676.13 609.27ZM679.96 604.57L686.96 604.57L683.46 609.27Z" fill="#d39c38" opacity="0.95"/>
<polyline points="574.5,605.17 578,608.67 581.18,605.17 584.68,608.67 588.24,605.17 591.74,608.67 594.91,605.17 598.41,608.67 601.92,605.17 605.42,608.67 609.25,605.17 612.75,608.67 616.1,605.17 619.6,608.67 623.43,605.17 626.93,608.67 630.53,605.17 634.03,608.67 637.8,605.17 641.3,608.67 644.46,605.17 647.96,608.67 651.63,605.17 655.13,608.67 658.64,605.17 662.14,608.67 665.71,605.17 669.21,608.67 672.63,605.17 676.13,608.67 679.96,605.17 683.46,608.67" fill="none" stroke="#f2d264" stroke-width="0.9" opacity="0.6"/>
<rect x="583" y="602.72" width="99.4" height="1.01" fill="#f2cf50" opacity="0.57"/>
<rect x="583" y="603.47" width="99.4" height="0.97" fill="#f2cf50" opacity="0.58"/>
<rect x="583" y="597.69" width="99.4" height="0.93" fill="#f2cf50" opacity="0.41"/>
<rect x="583" y="601.52" width="99.4" height="0.86" fill="#f2cf50" opacity="0.65"/>
<rect x="583" y="601.55" width="99.4" height="0.82" fill="#f2cf50" opacity="0.56"/>
<rect x="583" y="598.38" width="99.4" height="1.19" fill="#f2cf50" opacity="0.69"/>
<path d="M575.9 619.04L578 612.04L580.1 619.04ZM582.58 619.04L584.68 612.04L586.78 619.04ZM589.64 619.04L591.74 612.04L593.84 619.04ZM596.31 619.04L598.41 612.04L600.51 619.04ZM603.32 619.04L605.42 612.04L607.52 619.04ZM610.65 619.04L612.75 612.04L614.85 619.04ZM617.5 619.04L619.6 612.04L621.7 619.04ZM624.83 619.04L626.93 612.04L629.03 619.04ZM631.93 619.04L634.03 612.04L636.13 619.04ZM639.2 619.04L641.3 612.04L643.4 619.04ZM645.86 619.04L647.96 612.04L650.06 619.04ZM653.03 619.04L655.13 612.04L657.23 619.04ZM660.04 619.04L662.14 612.04L664.24 619.04ZM667.11 619.04L669.21 612.04L671.31 619.04ZM674.03 619.04L676.13 612.04L678.23 619.04ZM681.36 619.04L683.46 612.04L685.56 619.04Z" fill="#cc9030" opacity="0.95"/>
<polygon points="574.5,619.63 578,618.03 581.18,619.63 584.68,618.03 588.24,619.63 591.74,618.03 594.91,619.63 598.41,618.03 601.92,619.63 605.42,618.03 609.25,619.63 612.75,618.03 616.1,619.63 619.6,618.03 623.43,619.63 626.93,618.03 630.53,619.63 634.03,618.03 637.8,619.63 641.3,618.03 644.46,619.63 647.96,618.03 651.63,619.63 655.13,618.03 658.64,619.63 662.14,618.03 665.71,619.63 669.21,618.03 672.63,619.63 676.13,618.03 679.96,619.63 683.46,618.03 684.4,622 581,622" fill="#f7ee7c" opacity="1"/>
<rect x="583" y="622" width="99.4" height="1.98" fill="url(#bf)"/>
<line x1="583" y1="624" x2="682.4" y2="624" stroke="#f0d070" stroke-width="0.8" stroke-dasharray="2.5,1.5" opacity="0.7"/>
<line x1="583" y1="626.6" x2="682.4" y2="626.6" stroke="#f0d070" stroke-width="0.8" stroke-dasharray="2.5,1.5" opacity="0.7"/>
<line x1="583" y1="629.2" x2="682.4" y2="629.2" stroke="#f0d070" stroke-width="0.8" stroke-dasharray="2.5,1.5" opacity="0.7"/>
<rect x="583" y="592.7" width="99.4" height="13.07" filter="url(#nzd)" opacity="0.3"/>
<rect x="583" y="592.7" width="99.4" height="13.07" filter="url(#nzl)" opacity="0.42"/>
<rect x="583" y="605.77" width="99.4" height="13.86" filter="url(#nzl)" opacity="0.18"/>
<rect x="583" y="621.05" width="99.4" height="11.25" filter="url(#nzv)" opacity="0.3"/>
<rect x="583" y="621.05" width="99.4" height="11.25" filter="url(#nzv2)" opacity="0.2"/>
<rect x="583" y="592.7" width="99.4" height="39.6" filter="url(#nzf)" opacity="0.35"/>
<rect x="583" y="592.7" width="99.4" height="3.8" fill="#8a4a14"/>
<rect x="583" y="595.6" width="99.4" height="0.9" fill="#5a2a06"/>
<rect x="583" y="597" width="99.4" height="1.1" fill="#f6e07a" opacity="0.9"/>
</g>
<clipPath id="c9"><rect x="376" y="636" width="100.9" height="39.8"/></clipPath>
<g clip-path="url(#c9)">
<rect x="376" y="636" width="100.9" height="39.8" fill="#85420f"/>
<rect x="376" y="661.87" width="100.9" height="13.93" fill="#c48834"/>
<rect x="376" y="636" width="100.9" height="11.94" fill="#c48430"/>
<path d="M369.75 646.74L375.25 646.74L372.5 651.14ZM375.24 646.74L380.74 646.74L377.99 651.14ZM380.81 646.74L386.31 646.74L383.56 651.14ZM386.26 646.74L391.76 646.74L389.01 651.14ZM391.99 646.74L397.49 646.74L394.74 651.14ZM397.22 646.74L402.72 646.74L399.97 651.14ZM402.99 646.74L408.49 646.74L405.74 651.14ZM408.6 646.74L414.1 646.74L411.35 651.14ZM414.27 646.74L419.77 646.74L417.02 651.14ZM419.94 646.74L425.44 646.74L422.69 651.14ZM425.27 646.74L430.77 646.74L428.02 651.14ZM430.95 646.74L436.45 646.74L433.7 651.14ZM436.53 646.74L442.03 646.74L439.28 651.14ZM441.84 646.74L447.34 646.74L444.59 651.14ZM447.54 646.74L453.04 646.74L450.29 651.14ZM453 646.74L458.5 646.74L455.75 651.14ZM458.62 646.74L464.12 646.74L461.37 651.14ZM463.9 646.74L469.4 646.74L466.65 651.14ZM469.49 646.74L474.99 646.74L472.24 651.14ZM474.72 646.74L480.22 646.74L477.47 651.14Z" fill="#d39c38" opacity="0.95"/>
<polyline points="369.75,647.34 372.5,650.54 375.24,647.34 377.99,650.54 380.81,647.34 383.56,650.54 386.26,647.34 389.01,650.54 391.99,647.34 394.74,650.54 397.22,647.34 399.97,650.54 402.99,647.34 405.74,650.54 408.6,647.34 411.35,650.54 414.27,647.34 417.02,650.54 419.94,647.34 422.69,650.54 425.27,647.34 428.02,650.54 430.95,647.34 433.7,650.54 436.53,647.34 439.28,650.54 441.84,647.34 444.59,650.54 447.54,647.34 450.29,650.54 453,647.34 455.75,650.54 458.62,647.34 461.37,650.54 463.9,647.34 466.65,650.54 469.49,647.34 472.24,650.54 474.72,647.34 477.47,650.54" fill="none" stroke="#f2d264" stroke-width="0.9" opacity="0.6"/>
<rect x="376" y="640.58" width="100.9" height="0.63" fill="#f2cf50" opacity="0.59"/>
<rect x="376" y="641.43" width="100.9" height="0.72" fill="#f2cf50" opacity="0.68"/>
<rect x="376" y="645.53" width="100.9" height="0.84" fill="#f2cf50" opacity="0.44"/>
<rect x="376" y="645.32" width="100.9" height="0.93" fill="#f2cf50" opacity="0.49"/>
<rect x="376" y="642.08" width="100.9" height="0.82" fill="#f2cf50" opacity="0.54"/>
<rect x="376" y="641.13" width="100.9" height="0.6" fill="#f2cf50" opacity="0.54"/>
<path d="M370.3 662.87L372.5 654.87L374.7 662.87ZM375.79 662.87L377.99 654.87L380.19 662.87ZM381.36 662.87L383.56 654.87L385.76 662.87ZM386.81 662.87L389.01 654.87L391.21 662.87ZM392.54 662.87L394.74 654.87L396.94 662.87ZM397.77 662.87L399.97 654.87L402.17 662.87ZM403.54 662.87L405.74 654.87L407.94 662.87ZM409.15 662.87L411.35 654.87L413.55 662.87ZM414.82 662.87L417.02 654.87L419.22 662.87ZM420.49 662.87L422.69 654.87L424.89 662.87ZM425.82 662.87L428.02 654.87L430.22 662.87ZM431.5 662.87L433.7 654.87L435.9 662.87ZM437.08 662.87L439.28 654.87L441.48 662.87ZM442.39 662.87L444.59 654.87L446.79 662.87ZM448.09 662.87L450.29 654.87L452.49 662.87ZM453.55 662.87L455.75 654.87L457.95 662.87ZM459.17 662.87L461.37 654.87L463.57 662.87ZM464.45 662.87L466.65 654.87L468.85 662.87ZM470.04 662.87L472.24 654.87L474.44 662.87ZM475.27 662.87L477.47 654.87L479.67 662.87Z" fill="#cc9030" opacity="0.95"/>
<polygon points="369.75,661.87 372.5,660.27 375.24,661.87 377.99,660.27 380.81,661.87 383.56,660.27 386.26,661.87 389.01,660.27 391.99,661.87 394.74,660.27 397.22,661.87 399.97,660.27 402.99,661.87 405.74,660.27 408.6,661.87 411.35,660.27 414.27,661.87 417.02,660.27 419.94,661.87 422.69,660.27 425.27,661.87 428.02,660.27 430.95,661.87 433.7,660.27 436.53,661.87 439.28,660.27 441.84,661.87 444.59,660.27 447.54,661.87 450.29,660.27 453,661.87 455.75,660.27 458.62,661.87 461.37,660.27 463.9,661.87 466.65,660.27 469.49,661.87 472.24,660.27 474.72,661.87 477.47,660.27 478.9,668.64 374,668.64" fill="#f7ee7c" opacity="1"/>
<rect x="376" y="668.64" width="100.9" height="1.99" fill="url(#bf)"/>
<rect x="376" y="636" width="100.9" height="11.94" filter="url(#nzd)" opacity="0.3"/>
<rect x="376" y="636" width="100.9" height="11.94" filter="url(#nzl)" opacity="0.42"/>
<rect x="376" y="647.94" width="100.9" height="13.93" filter="url(#nzl)" opacity="0.18"/>
<rect x="376" y="665.93" width="100.9" height="9.87" filter="url(#nzv)" opacity="0.2"/>
<rect x="376" y="665.93" width="100.9" height="9.87" filter="url(#nzv2)" opacity="0.5"/>
<rect x="376" y="636" width="100.9" height="39.8" filter="url(#nzf)" opacity="0.35"/>
<rect x="376" y="636" width="100.9" height="2.7" fill="#8a4a14"/>
<rect x="376" y="637.8" width="100.9" height="0.9" fill="#5a2a06"/>
<rect x="376" y="639.2" width="100.9" height="1.1" fill="#f6e07a" opacity="0.9"/>
</g>
<rect x="376.3" y="636.3" width="100.3" height="39.2" fill="none" stroke="#3a2008" stroke-width="0.6"/>
<clipPath id="c10"><rect x="480" y="636" width="100" height="39.8"/></clipPath>
<g clip-path="url(#c10)">
<rect x="480" y="636" width="100" height="39.8" fill="#85420f"/>
<rect x="480" y="663.06" width="100" height="12.74" fill="#95501a"/>
<rect x="480" y="636" width="100" height="11.94" fill="#9a5418"/>
<path d="M472.1 646.74L478.7 646.74L475.4 650.94ZM478.58 646.74L485.18 646.74L481.88 650.94ZM485.26 646.74L491.86 646.74L488.56 650.94ZM491.54 646.74L498.14 646.74L494.84 650.94ZM498.46 646.74L505.06 646.74L501.76 650.94ZM505.27 646.74L511.87 646.74L508.57 650.94ZM512.2 646.74L518.8 646.74L515.5 650.94ZM518.64 646.74L525.24 646.74L521.94 650.94ZM525.04 646.74L531.64 646.74L528.34 650.94ZM531.35 646.74L537.95 646.74L534.65 650.94ZM537.75 646.74L544.35 646.74L541.05 650.94ZM544.03 646.74L550.63 646.74L547.33 650.94ZM550.76 646.74L557.36 646.74L554.06 650.94ZM557.27 646.74L563.87 646.74L560.57 650.94ZM564.08 646.74L570.68 646.74L567.38 650.94ZM570.85 646.74L577.45 646.74L574.15 650.94ZM577.35 646.74L583.95 646.74L580.65 650.94Z" fill="#d39c38" opacity="0.95"/>
<polyline points="472.1,647.34 475.4,650.34 478.58,647.34 481.88,650.34 485.26,647.34 488.56,650.34 491.54,647.34 494.84,650.34 498.46,647.34 501.76,650.34 505.27,647.34 508.57,650.34 512.2,647.34 515.5,650.34 518.64,647.34 521.94,650.34 525.04,647.34 528.34,650.34 531.35,647.34 534.65,650.34 537.75,647.34 541.05,650.34 544.03,647.34 547.33,650.34 550.76,647.34 554.06,650.34 557.27,647.34 560.57,650.34 564.08,647.34 567.38,650.34 570.85,647.34 574.15,650.34 577.35,647.34 580.65,650.34" fill="none" stroke="#f2d264" stroke-width="0.9" opacity="0.6"/>
<rect x="480" y="642.39" width="100" height="0.62" fill="#f2cf50" opacity="0.61"/>
<rect x="480" y="641.21" width="100" height="0.69" fill="#f2cf50" opacity="0.71"/>
<rect x="480" y="643.05" width="100" height="1.17" fill="#f2cf50" opacity="0.74"/>
<path d="M472.1 661.68L475.4 656.18L478.7 661.68ZM478.58 661.68L481.88 656.18L485.18 661.68ZM485.26 661.68L488.56 656.18L491.86 661.68ZM491.54 661.68L494.84 656.18L498.14 661.68ZM498.46 661.68L501.76 656.18L505.06 661.68ZM505.27 661.68L508.57 656.18L511.87 661.68ZM512.2 661.68L515.5 656.18L518.8 661.68ZM518.64 661.68L521.94 656.18L525.24 661.68ZM525.04 661.68L528.34 656.18L531.64 661.68ZM531.35 661.68L534.65 656.18L537.95 661.68ZM537.75 661.68L541.05 656.18L544.35 661.68ZM544.03 661.68L547.33 656.18L550.63 661.68ZM550.76 661.68L554.06 656.18L557.36 661.68ZM557.27 661.68L560.57 656.18L563.87 661.68ZM564.08 661.68L567.38 656.18L570.68 661.68ZM570.85 661.68L574.15 656.18L577.45 661.68ZM577.35 661.68L580.65 656.18L583.95 661.68Z" fill="#cc9030" opacity="0.95"/>
<polygon points="472.1,663.06 475.4,661.46 478.58,663.06 481.88,661.46 485.26,663.06 488.56,661.46 491.54,663.06 494.84,661.46 498.46,663.06 501.76,661.46 505.27,663.06 508.57,661.46 512.2,663.06 515.5,661.46 518.64,663.06 521.94,661.46 525.04,663.06 528.34,661.46 531.35,663.06 534.65,661.46 537.75,663.06 541.05,661.46 544.03,663.06 547.33,661.46 550.76,663.06 554.06,661.46 557.27,663.06 560.57,661.46 564.08,663.06 567.38,661.46 570.85,663.06 574.15,661.46 577.35,663.06 580.65,661.46 582,666.25 478,666.25" fill="#f7ee7c" opacity="1"/>
<rect x="480" y="666.25" width="100" height="1.99" fill="url(#bf)"/>
<rect x="480" y="636" width="100" height="11.94" filter="url(#nzd)" opacity="0.3"/>
<rect x="480" y="636" width="100" height="11.94" filter="url(#nzl)" opacity="0.42"/>
<rect x="480" y="647.94" width="100" height="15.12" filter="url(#nzl)" opacity="0.18"/>
<rect x="480" y="664.97" width="100" height="10.83" filter="url(#nzv)" opacity="0.3"/>
<rect x="480" y="664.97" width="100" height="10.83" filter="url(#nzv2)" opacity="0.2"/>
<rect x="480" y="636" width="100" height="39.8" filter="url(#nzf)" opacity="0.35"/>
<rect x="480" y="636" width="100" height="4.2" fill="#8a4a14"/>
<rect x="480" y="639.3" width="100" height="0.9" fill="#5a2a06"/>
<rect x="480" y="640.7" width="100" height="1.1" fill="#f6e07a" opacity="0.9"/>
</g>
<clipPath id="c11"><rect x="583" y="636" width="99.4" height="39.8"/></clipPath>
<g clip-path="url(#c11)">
<rect x="583" y="636" width="99.4" height="39.8" fill="#85420f"/>
<rect x="583" y="661.07" width="99.4" height="14.73" fill="#a86219"/>
<rect x="583" y="636" width="99.4" height="11.54" fill="#a86420"/>
<path d="M576 646.34L582 646.34L579 650.54ZM582.19 646.34L588.19 646.34L585.19 650.54ZM587.95 646.34L593.95 646.34L590.95 650.54ZM594.2 646.34L600.2 646.34L597.2 650.54ZM600.34 646.34L606.34 646.34L603.34 650.54ZM606.19 646.34L612.19 646.34L609.19 650.54ZM612.15 646.34L618.15 646.34L615.15 650.54ZM617.87 646.34L623.87 646.34L620.87 650.54ZM623.66 646.34L629.66 646.34L626.66 650.54ZM629.75 646.34L635.75 646.34L632.75 650.54ZM635.91 646.34L641.91 646.34L638.91 650.54ZM641.73 646.34L647.73 646.34L644.73 650.54ZM647.84 646.34L653.84 646.34L650.84 650.54ZM653.77 646.34L659.77 646.34L656.77 650.54ZM659.8 646.34L665.8 646.34L662.8 650.54ZM666 646.34L672 646.34L669 650.54ZM671.84 646.34L677.84 646.34L674.84 650.54ZM677.65 646.34L683.65 646.34L680.65 650.54ZM683.6 646.34L689.6 646.34L686.6 650.54Z" fill="#d39c38" opacity="0.95"/>
<polyline points="576,646.94 579,649.94 582.19,646.94 585.19,649.94 587.95,646.94 590.95,649.94 594.2,646.94 597.2,649.94 600.34,646.94 603.34,649.94 606.19,646.94 609.19,649.94 612.15,646.94 615.15,649.94 617.87,646.94 620.87,649.94 623.66,646.94 626.66,649.94 629.75,646.94 632.75,649.94 635.91,646.94 638.91,649.94 641.73,646.94 644.73,649.94 647.84,646.94 650.84,649.94 653.77,646.94 656.77,649.94 659.8,646.94 662.8,649.94 666,646.94 669,649.94 671.84,646.94 674.84,649.94 677.65,646.94 680.65,649.94 683.6,646.94 686.6,649.94" fill="none" stroke="#f2d264" stroke-width="0.9" opacity="0.6"/>
<rect x="583" y="642.66" width="99.4" height="1.1" fill="#f2cf50" opacity="0.42"/>
<rect x="583" y="645.11" width="99.4" height="1.12" fill="#f2cf50" opacity="0.5"/>
<rect x="583" y="641.25" width="99.4" height="0.66" fill="#f2cf50" opacity="0.41"/>
<rect x="583" y="641.85" width="99.4" height="0.96" fill="#f2cf50" opacity="0.7"/>
<rect x="583" y="641.61" width="99.4" height="1.16" fill="#f2cf50" opacity="0.42"/>
<rect x="583" y="643.32" width="99.4" height="1.05" fill="#f2cf50" opacity="0.71"/>
<path d="M576.6 662.07L579 655.57L581.4 662.07ZM582.79 662.07L585.19 655.57L587.59 662.07ZM588.55 662.07L590.95 655.57L593.35 662.07ZM594.8 662.07L597.2 655.57L599.6 662.07ZM600.94 662.07L603.34 655.57L605.74 662.07ZM606.79 662.07L609.19 655.57L611.59 662.07ZM612.75 662.07L615.15 655.57L617.55 662.07ZM618.47 662.07L620.87 655.57L623.27 662.07ZM624.26 662.07L626.66 655.57L629.06 662.07ZM630.35 662.07L632.75 655.57L635.15 662.07ZM636.51 662.07L638.91 655.57L641.31 662.07ZM642.33 662.07L644.73 655.57L647.13 662.07ZM648.44 662.07L650.84 655.57L653.24 662.07ZM654.37 662.07L656.77 655.57L659.17 662.07ZM660.4 662.07L662.8 655.57L665.2 662.07ZM666.6 662.07L669 655.57L671.4 662.07ZM672.44 662.07L674.84 655.57L677.24 662.07ZM678.25 662.07L680.65 655.57L683.05 662.07ZM684.2 662.07L686.6 655.57L689 662.07Z" fill="#cc9030" opacity="0.95"/>
<polygon points="576,661.07 579,659.47 582.19,661.07 585.19,659.47 587.95,661.07 590.95,659.47 594.2,661.07 597.2,659.47 600.34,661.07 603.34,659.47 606.19,661.07 609.19,659.47 612.15,661.07 615.15,659.47 617.87,661.07 620.87,659.47 623.66,661.07 626.66,659.47 629.75,661.07 632.75,659.47 635.91,661.07 638.91,659.47 641.73,661.07 644.73,659.47 647.84,661.07 650.84,659.47 653.77,661.07 656.77,659.47 659.8,661.07 662.8,659.47 666,661.07 669,659.47 671.84,661.07 674.84,659.47 677.65,661.07 680.65,659.47 683.6,661.07 686.6,659.47 684.4,665.85 581,665.85" fill="#f7ee7c" opacity="1"/>
<rect x="583" y="665.85" width="99.4" height="1.99" fill="url(#bf)"/>
<rect x="583" y="636" width="99.4" height="11.54" filter="url(#nzd)" opacity="0.3"/>
<rect x="583" y="636" width="99.4" height="11.54" filter="url(#nzl)" opacity="0.42"/>
<rect x="583" y="647.54" width="99.4" height="13.53" filter="url(#nzl)" opacity="0.18"/>
<rect x="583" y="663.94" width="99.4" height="11.86" filter="url(#nzv)" opacity="0.3"/>
<rect x="583" y="663.94" width="99.4" height="11.86" filter="url(#nzv2)" opacity="0.2"/>
<rect x="583" y="636" width="99.4" height="39.8" filter="url(#nzf)" opacity="0.35"/>
<rect x="583" y="636" width="99.4" height="2.7" fill="#8a4a14"/>
<rect x="583" y="637.8" width="99.4" height="0.9" fill="#5a2a06"/>
<rect x="583" y="639.2" width="99.4" height="1.1" fill="#f6e07a" opacity="0.9"/>
</g>
<clipPath id="c12"><rect x="376" y="679.2" width="100.9" height="40.8"/></clipPath>
<g clip-path="url(#c12)">
<rect x="376" y="679.2" width="100.9" height="40.8" fill="#85420f"/>
<rect x="376" y="705.31" width="100.9" height="14.69" fill="#c48834"/>
<rect x="376" y="679.2" width="100.9" height="12.65" fill="#c48430"/>
<path d="M369.9 690.65L375.3 690.65L372.6 695.05ZM375.14 690.65L380.54 690.65L377.84 695.05ZM380.6 690.65L386 690.65L383.3 695.05ZM385.79 690.65L391.19 690.65L388.49 695.05ZM391.41 690.65L396.81 690.65L394.11 695.05ZM396.64 690.65L402.04 690.65L399.34 695.05ZM402.02 690.65L407.42 690.65L404.72 695.05ZM407.57 690.65L412.97 690.65L410.27 695.05ZM413.19 690.65L418.59 690.65L415.89 695.05ZM418.63 690.65L424.03 690.65L421.33 695.05ZM424.13 690.65L429.53 690.65L426.83 695.05ZM429.55 690.65L434.95 690.65L432.25 695.05ZM435.13 690.65L440.53 690.65L437.83 695.05ZM440.39 690.65L445.79 690.65L443.09 695.05ZM445.89 690.65L451.29 690.65L448.59 695.05ZM451.34 690.65L456.74 690.65L454.04 695.05ZM456.72 690.65L462.12 690.65L459.42 695.05ZM462.08 690.65L467.48 690.65L464.78 695.05ZM467.22 690.65L472.62 690.65L469.92 695.05ZM472.65 690.65L478.05 690.65L475.35 695.05ZM478.01 690.65L483.41 690.65L480.71 695.05Z" fill="#d39c38" opacity="0.95"/>
<polyline points="369.9,691.25 372.6,694.45 375.14,691.25 377.84,694.45 380.6,691.25 383.3,694.45 385.79,691.25 388.49,694.45 391.41,691.25 394.11,694.45 396.64,691.25 399.34,694.45 402.02,691.25 404.72,694.45 407.57,691.25 410.27,694.45 413.19,691.25 415.89,694.45 418.63,691.25 421.33,694.45 424.13,691.25 426.83,694.45 429.55,691.25 432.25,694.45 435.13,691.25 437.83,694.45 440.39,691.25 443.09,694.45 445.89,691.25 448.59,694.45 451.34,691.25 454.04,694.45 456.72,691.25 459.42,694.45 462.08,691.25 464.78,694.45 467.22,691.25 469.92,694.45 472.65,691.25 475.35,694.45 478.01,691.25 480.71,694.45" fill="none" stroke="#f2d264" stroke-width="0.9" opacity="0.6"/>
<rect x="376" y="686.69" width="100.9" height="1.15" fill="#f2cf50" opacity="0.62"/>
<rect x="376" y="688.27" width="100.9" height="0.73" fill="#f2cf50" opacity="0.52"/>
<rect x="376" y="690.71" width="100.9" height="0.81" fill="#f2cf50" opacity="0.42"/>
<rect x="376" y="686.11" width="100.9" height="0.69" fill="#f2cf50" opacity="0.68"/>
<rect x="376" y="688.48" width="100.9" height="0.74" fill="#f2cf50" opacity="0.73"/>
<rect x="376" y="686.73" width="100.9" height="0.8" fill="#f2cf50" opacity="0.7"/>
<path d="M370.44 705.9L372.6 698.4L374.76 705.9ZM375.68 705.9L377.84 698.4L380 705.9ZM381.14 705.9L383.3 698.4L385.46 705.9ZM386.33 705.9L388.49 698.4L390.65 705.9ZM391.95 705.9L394.11 698.4L396.27 705.9ZM397.18 705.9L399.34 698.4L401.5 705.9ZM402.56 705.9L404.72 698.4L406.88 705.9ZM408.11 705.9L410.27 698.4L412.43 705.9ZM413.73 705.9L415.89 698.4L418.05 705.9ZM419.17 705.9L421.33 698.4L423.49 705.9ZM424.67 705.9L426.83 698.4L428.99 705.9ZM430.09 705.9L432.25 698.4L434.41 705.9ZM435.67 705.9L437.83 698.4L439.99 705.9ZM440.93 705.9L443.09 698.4L445.25 705.9ZM446.43 705.9L448.59 698.4L450.75 705.9ZM451.88 705.9L454.04 698.4L456.2 705.9ZM457.26 705.9L459.42 698.4L461.58 705.9ZM462.62 705.9L464.78 698.4L466.94 705.9ZM467.76 705.9L469.92 698.4L472.08 705.9ZM473.19 705.9L475.35 698.4L477.51 705.9ZM478.55 705.9L480.71 698.4L482.87 705.9Z" fill="#cc9030" opacity="0.95"/>
<polygon points="369.9,705.31 372.6,703.71 375.14,705.31 377.84,703.71 380.6,705.31 383.3,703.71 385.79,705.31 388.49,703.71 391.41,705.31 394.11,703.71 396.64,705.31 399.34,703.71 402.02,705.31 404.72,703.71 407.57,705.31 410.27,703.71 413.19,705.31 415.89,703.71 418.63,705.31 421.33,703.71 424.13,705.31 426.83,703.71 429.55,705.31 432.25,703.71 435.13,705.31 437.83,703.71 440.39,705.31 443.09,703.71 445.89,705.31 448.59,703.71 451.34,705.31 454.04,703.71 456.72,705.31 459.42,703.71 462.08,705.31 464.78,703.71 467.22,705.31 469.92,703.71 472.65,705.31 475.35,703.71 478.01,705.31 480.71,703.71 478.9,711.43 374,711.43" fill="#f7ee7c" opacity="1"/>
<rect x="376" y="711.43" width="100.9" height="2.04" fill="url(#bf)"/>
<rect x="376" y="679.2" width="100.9" height="12.65" filter="url(#nzd)" opacity="0.3"/>
<rect x="376" y="679.2" width="100.9" height="12.65" filter="url(#nzl)" opacity="0.42"/>
<rect x="376" y="691.85" width="100.9" height="13.46" filter="url(#nzl)" opacity="0.18"/>
<rect x="376" y="708.98" width="100.9" height="11.02" filter="url(#nzv)" opacity="0.2"/>
<rect x="376" y="708.98" width="100.9" height="11.02" filter="url(#nzv2)" opacity="0.5"/>
<rect x="376" y="679.2" width="100.9" height="40.8" filter="url(#nzf)" opacity="0.35"/>
<rect x="376" y="679.2" width="100.9" height="2.7" fill="#8a4a14"/>
<rect x="376" y="681" width="100.9" height="0.9" fill="#5a2a06"/>
<rect x="376" y="682.4" width="100.9" height="1.1" fill="#f6e07a" opacity="0.9"/>
</g>
<clipPath id="c13"><rect x="480" y="679.2" width="100" height="40.8"/></clipPath>
<g clip-path="url(#c13)">
<rect x="480" y="679.2" width="100" height="40.8" fill="#85420f"/>
<rect x="480" y="704.5" width="100" height="15.5" fill="#9a5418"/>
<rect x="480" y="679.2" width="100" height="12.24" fill="#a05a18"/>
<path d="M472.55 690.24L478.85 690.24L475.7 694.44ZM478.8 690.24L485.1 690.24L481.95 694.44ZM485.14 690.24L491.44 690.24L488.29 694.44ZM491.48 690.24L497.78 690.24L494.63 694.44ZM497.83 690.24L504.13 690.24L500.98 694.44ZM504.32 690.24L510.62 690.24L507.47 694.44ZM510.92 690.24L517.22 690.24L514.07 694.44ZM517.33 690.24L523.63 690.24L520.48 694.44ZM523.82 690.24L530.12 690.24L526.97 694.44ZM530.16 690.24L536.46 690.24L533.31 694.44ZM536.45 690.24L542.75 690.24L539.6 694.44ZM542.96 690.24L549.26 690.24L546.11 694.44ZM549.57 690.24L555.87 690.24L552.72 694.44ZM555.92 690.24L562.22 690.24L559.07 694.44ZM562.3 690.24L568.6 690.24L565.45 694.44ZM568.33 690.24L574.63 690.24L571.48 694.44ZM574.85 690.24L581.15 690.24L578 694.44ZM581.24 690.24L587.54 690.24L584.39 694.44Z" fill="#d39c38" opacity="0.95"/>
<polyline points="472.55,690.84 475.7,693.84 478.8,690.84 481.95,693.84 485.14,690.84 488.29,693.84 491.48,690.84 494.63,693.84 497.83,690.84 500.98,693.84 504.32,690.84 507.47,693.84 510.92,690.84 514.07,693.84 517.33,690.84 520.48,693.84 523.82,690.84 526.97,693.84 530.16,690.84 533.31,693.84 536.45,690.84 539.6,693.84 542.96,690.84 546.11,693.84 549.57,690.84 552.72,693.84 555.92,690.84 559.07,693.84 562.3,690.84 565.45,693.84 568.33,690.84 571.48,693.84 574.85,690.84 578,693.84 581.24,690.84 584.39,693.84" fill="none" stroke="#f2d264" stroke-width="0.9" opacity="0.6"/>
<rect x="480" y="684.28" width="100" height="0.95" fill="#f2cf50" opacity="0.59"/>
<rect x="480" y="684.21" width="100" height="0.85" fill="#f2cf50" opacity="0.65"/>
<rect x="480" y="689.04" width="100" height="1.03" fill="#f2cf50" opacity="0.62"/>
<rect x="480" y="690.36" width="100" height="1.07" fill="#f2cf50" opacity="0.38"/>
<rect x="480" y="685.8" width="100" height="0.62" fill="#f2cf50" opacity="0.71"/>
<rect x="480" y="688.33" width="100" height="0.73" fill="#f2cf50" opacity="0.42"/>
<path d="M472.55 705.09L475.7 700.09L478.85 705.09ZM478.8 705.09L481.95 700.09L485.1 705.09ZM485.14 705.09L488.29 700.09L491.44 705.09ZM491.48 705.09L494.63 700.09L497.78 705.09ZM497.83 705.09L500.98 700.09L504.13 705.09ZM504.32 705.09L507.47 700.09L510.62 705.09ZM510.92 705.09L514.07 700.09L517.22 705.09ZM517.33 705.09L520.48 700.09L523.63 705.09ZM523.82 705.09L526.97 700.09L530.12 705.09ZM530.16 705.09L533.31 700.09L536.46 705.09ZM536.45 705.09L539.6 700.09L542.75 705.09ZM542.96 705.09L546.11 700.09L549.26 705.09ZM549.57 705.09L552.72 700.09L555.87 705.09ZM555.92 705.09L559.07 700.09L562.22 705.09ZM562.3 705.09L565.45 700.09L568.6 705.09ZM568.33 705.09L571.48 700.09L574.63 705.09ZM574.85 705.09L578 700.09L581.15 705.09ZM581.24 705.09L584.39 700.09L587.54 705.09Z" fill="#cc9030" opacity="0.95"/>
<polygon points="472.55,704.5 475.7,702.9 478.8,704.5 481.95,702.9 485.14,704.5 488.29,702.9 491.48,704.5 494.63,702.9 497.83,704.5 500.98,702.9 504.32,704.5 507.47,702.9 510.92,704.5 514.07,702.9 517.33,704.5 520.48,702.9 523.82,704.5 526.97,702.9 530.16,704.5 533.31,702.9 536.45,704.5 539.6,702.9 542.96,704.5 546.11,702.9 549.57,704.5 552.72,702.9 555.92,704.5 559.07,702.9 562.3,704.5 565.45,702.9 568.33,704.5 571.48,702.9 574.85,704.5 578,702.9 581.24,704.5 584.39,702.9 582,708.58 478,708.58" fill="#f7ee7c" opacity="1"/>
<rect x="480" y="708.58" width="100" height="2.04" fill="url(#bf)"/>
<rect x="480" y="679.2" width="100" height="12.24" filter="url(#nzd)" opacity="0.3"/>
<rect x="480" y="679.2" width="100" height="12.24" filter="url(#nzl)" opacity="0.42"/>
<rect x="480" y="691.44" width="100" height="13.06" filter="url(#nzl)" opacity="0.18"/>
<rect x="480" y="706.94" width="100" height="13.06" filter="url(#nzv)" opacity="0.3"/>
<rect x="480" y="706.94" width="100" height="13.06" filter="url(#nzv2)" opacity="0.2"/>
<rect x="480" y="679.2" width="100" height="40.8" filter="url(#nzf)" opacity="0.35"/>
<rect x="480" y="679.2" width="100" height="3.3" fill="#8a4a14"/>
<rect x="480" y="681.6" width="100" height="0.9" fill="#5a2a06"/>
<rect x="480" y="683" width="100" height="1.1" fill="#f6e07a" opacity="0.9"/>
</g>
<clipPath id="c14"><rect x="583" y="679.2" width="99.4" height="40.8"/></clipPath>
<g clip-path="url(#c14)">
<rect x="583" y="679.2" width="99.4" height="40.8" fill="#85420f"/>
<rect x="583" y="705.31" width="99.4" height="14.69" fill="#9a5418"/>
<rect x="583" y="679.2" width="99.4" height="11.42" fill="#a86420"/>
<path d="M575.7 689.42L581.9 689.42L578.8 693.12ZM581.84 689.42L588.04 689.42L584.94 693.12ZM587.85 689.42L594.05 689.42L590.95 693.12ZM593.86 689.42L600.06 689.42L596.96 693.12ZM599.9 689.42L606.1 689.42L603 693.12ZM606.26 689.42L612.46 689.42L609.36 693.12ZM612.31 689.42L618.51 689.42L615.41 693.12ZM618.43 689.42L624.63 689.42L621.53 693.12ZM624.75 689.42L630.95 689.42L627.85 693.12ZM630.97 689.42L637.17 689.42L634.07 693.12ZM637.44 689.42L643.64 689.42L640.54 693.12ZM643.64 689.42L649.84 689.42L646.74 693.12ZM649.79 689.42L655.99 689.42L652.89 693.12ZM656.06 689.42L662.26 689.42L659.16 693.12ZM662.08 689.42L668.28 689.42L665.18 693.12ZM668.53 689.42L674.73 689.42L671.63 693.12ZM674.65 689.42L680.85 689.42L677.75 693.12ZM680.78 689.42L686.98 689.42L683.88 693.12Z" fill="#d39c38" opacity="0.95"/>
<polyline points="575.7,690.02 578.8,692.52 581.84,690.02 584.94,692.52 587.85,690.02 590.95,692.52 593.86,690.02 596.96,692.52 599.9,690.02 603,692.52 606.26,690.02 609.36,692.52 612.31,690.02 615.41,692.52 618.43,690.02 621.53,692.52 624.75,690.02 627.85,692.52 630.97,690.02 634.07,692.52 637.44,690.02 640.54,692.52 643.64,690.02 646.74,692.52 649.79,690.02 652.89,692.52 656.06,690.02 659.16,692.52 662.08,690.02 665.18,692.52 668.53,690.02 671.63,692.52 674.65,690.02 677.75,692.52 680.78,690.02 683.88,692.52" fill="none" stroke="#f2d264" stroke-width="0.9" opacity="0.6"/>
<rect x="583" y="684.05" width="99.4" height="1" fill="#f2cf50" opacity="0.69"/>
<rect x="583" y="685.35" width="99.4" height="1.17" fill="#f2cf50" opacity="0.56"/>
<rect x="583" y="688.36" width="99.4" height="0.88" fill="#f2cf50" opacity="0.51"/>
<rect x="583" y="684.87" width="99.4" height="0.6" fill="#f2cf50" opacity="0.43"/>
<rect x="583" y="689.85" width="99.4" height="0.92" fill="#f2cf50" opacity="0.53"/>
<rect x="583" y="689.23" width="99.4" height="0.96" fill="#f2cf50" opacity="0.74"/>
<path d="M575.7 704.68L578.8 700.18L581.9 704.68ZM581.84 704.68L584.94 700.18L588.04 704.68ZM587.85 704.68L590.95 700.18L594.05 704.68ZM593.86 704.68L596.96 700.18L600.06 704.68ZM599.9 704.68L603 700.18L606.1 704.68ZM606.26 704.68L609.36 700.18L612.46 704.68ZM612.31 704.68L615.41 700.18L618.51 704.68ZM618.43 704.68L621.53 700.18L624.63 704.68ZM624.75 704.68L627.85 700.18L630.95 704.68ZM630.97 704.68L634.07 700.18L637.17 704.68ZM637.44 704.68L640.54 700.18L643.64 704.68ZM643.64 704.68L646.74 700.18L649.84 704.68ZM649.79 704.68L652.89 700.18L655.99 704.68ZM656.06 704.68L659.16 700.18L662.26 704.68ZM662.08 704.68L665.18 700.18L668.28 704.68ZM668.53 704.68L671.63 700.18L674.73 704.68ZM674.65 704.68L677.75 700.18L680.85 704.68ZM680.78 704.68L683.88 700.18L686.98 704.68Z" fill="#cc9030" opacity="0.95"/>
<polygon points="575.7,705.31 578.8,703.71 581.84,705.31 584.94,703.71 587.85,705.31 590.95,703.71 593.86,705.31 596.96,703.71 599.9,705.31 603,703.71 606.26,705.31 609.36,703.71 612.31,705.31 615.41,703.71 618.43,705.31 621.53,703.71 624.75,705.31 627.85,703.71 630.97,705.31 634.07,703.71 637.44,705.31 640.54,703.71 643.64,705.31 646.74,703.71 649.79,705.31 652.89,703.71 656.06,705.31 659.16,703.71 662.08,705.31 665.18,703.71 668.53,705.31 671.63,703.71 674.65,705.31 677.75,703.71 680.78,705.31 683.88,703.71 684.4,710.21 581,710.21" fill="#f7ee7c" opacity="1"/>
<rect x="583" y="710.21" width="99.4" height="2.04" fill="url(#bf)"/>
<line x1="583" y1="712.21" x2="682.4" y2="712.21" stroke="#f0d070" stroke-width="0.8" stroke-dasharray="2.5,1.5" opacity="0.7"/>
<line x1="583" y1="714.81" x2="682.4" y2="714.81" stroke="#f0d070" stroke-width="0.8" stroke-dasharray="2.5,1.5" opacity="0.7"/>
<line x1="583" y1="717.41" x2="682.4" y2="717.41" stroke="#f0d070" stroke-width="0.8" stroke-dasharray="2.5,1.5" opacity="0.7"/>
<rect x="583" y="679.2" width="99.4" height="11.42" filter="url(#nzd)" opacity="0.3"/>
<rect x="583" y="679.2" width="99.4" height="11.42" filter="url(#nzl)" opacity="0.42"/>
<rect x="583" y="690.62" width="99.4" height="14.69" filter="url(#nzl)" opacity="0.18"/>
<rect x="583" y="708.25" width="99.4" height="11.75" filter="url(#nzv)" opacity="0.3"/>
<rect x="583" y="708.25" width="99.4" height="11.75" filter="url(#nzv2)" opacity="0.2"/>
<rect x="583" y="679.2" width="99.4" height="40.8" filter="url(#nzf)" opacity="0.35"/>
<rect x="583" y="679.2" width="99.4" height="2.7" fill="#8a4a14"/>
<rect x="583" y="681" width="99.4" height="0.9" fill="#5a2a06"/>
<rect x="583" y="682.4" width="99.4" height="1.1" fill="#f6e07a" opacity="0.9"/>
</g>
</g>
</svg></body></html>
